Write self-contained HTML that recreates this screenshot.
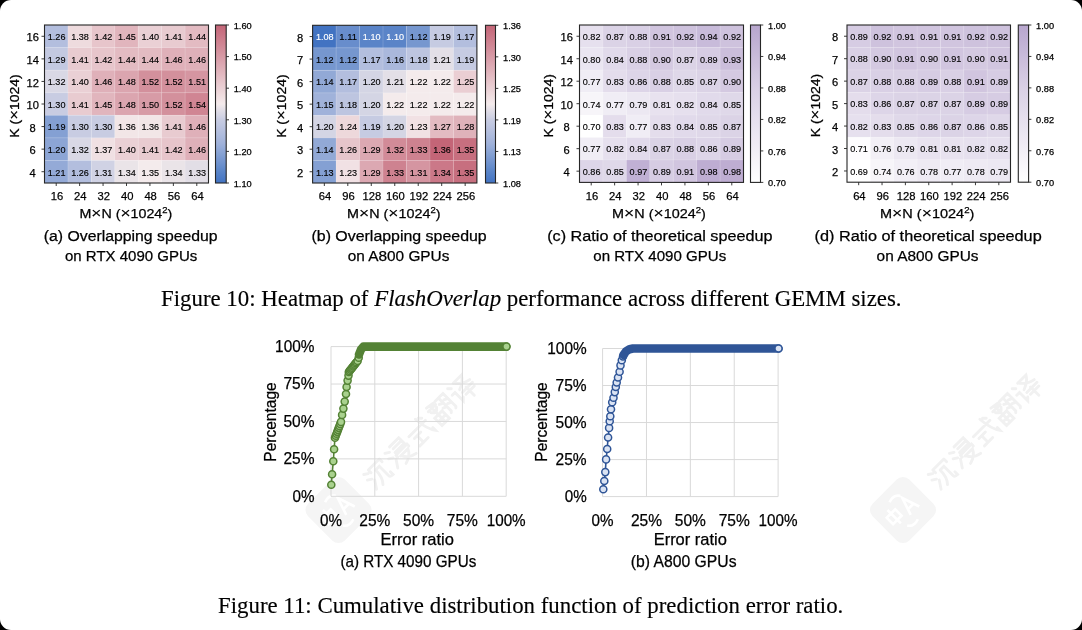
<!DOCTYPE html>
<html><head><meta charset="utf-8"><style>
html,body{margin:0;padding:0;background:#000;}
#page{position:relative;width:1082px;height:630px;background:#fff;border-radius:11px;overflow:hidden;}
svg{position:absolute;left:0;top:0;will-change:transform;}
text{font-family:"Liberation Sans", sans-serif;}
</style></head><body><div id="page">
<svg width="1082" height="630" viewBox="0 0 1082 630">
<g transform="rotate(-45 338.5 510)"><rect x="312.5" y="484" width="52" height="52" rx="9" fill="#f5f5f5"/><g fill="none" stroke="#fff" stroke-width="2.6"><path d="M321.5,504 h12 v9 h-12 z M327.5,499 v19"/><path d="M340.5,519 L346.5,501 L352.5,519 M342.5,513 h8"/><path d="M334.5,495 q8,-3 12,3 M330.5,524 q4,6 12,3"/></g></g>
<g transform="rotate(-45 903 510)"><rect x="877" y="484" width="52" height="52" rx="9" fill="#f5f5f5"/><g fill="none" stroke="#fff" stroke-width="2.6"><path d="M886,504 h12 v9 h-12 z M892,499 v19"/><path d="M905,519 L911,501 L917,519 M907,513 h8"/><path d="M899,495 q8,-3 12,3 M895,524 q4,6 12,3"/></g></g>
<g transform="translate(377.5,473.6) rotate(-45)" fill="none" stroke="#f1f1f1" stroke-width="2.2" stroke-linecap="round"><path transform="translate(-13,-13) scale(1.3)" d="M2,3 l3,2 M1,8 l3,2 M1,18 l4,-6 M7,3 h12 M7,3 v3 M19,3 v3 M11,7 q0,8 -4,12 M11,7 h4 v10 q0,2 3,2 v-3"/><path transform="translate(17,-13) scale(1.3)" d="M2,3 l3,2 M1,8 l3,2 M1,18 l4,-6 M8,2 h10 v6 h-10 M9,5 h9 M7,10 h12 v2 M7,10 v2 M9,13 h8 q-2,5 -9,7 M10,14 q3,5 9,6"/><path transform="translate(47,-13) scale(1.3)" d="M1,7 h18 M14,1 q1,12 5,17 v-3 M16,2 l2,2 M3,11 h7 M6,11 v7 M2,18 h9"/><path transform="translate(77,-13) scale(1.3)" d="M3,1 l6,1 M2,4 h8 M6,2 v8 M3,6 l2,2 M9,6 l-2,2 M2,11 h8 v8 h-8 z M2,15 h8 M6,11 v8 M11,2 h4 v14 l-1,1 M12,6 l2,1 M12,10 l2,1 M16,2 h4 v14 l-1,1 M17,6 l2,1 M17,10 l2,1"/><path transform="translate(107,-13) scale(1.3)" d="M2,2 l2,2 M1,8 h3 v9 l2,-2 M8,2 h9 q-3,5 -9,7 M9,3 q4,5 10,6 M8,12 h11 M9,15 h9 M13,11 v9"/></g>
<g transform="translate(942,473.6) rotate(-45)" fill="none" stroke="#f1f1f1" stroke-width="2.2" stroke-linecap="round"><path transform="translate(-13,-13) scale(1.3)" d="M2,3 l3,2 M1,8 l3,2 M1,18 l4,-6 M7,3 h12 M7,3 v3 M19,3 v3 M11,7 q0,8 -4,12 M11,7 h4 v10 q0,2 3,2 v-3"/><path transform="translate(17,-13) scale(1.3)" d="M2,3 l3,2 M1,8 l3,2 M1,18 l4,-6 M8,2 h10 v6 h-10 M9,5 h9 M7,10 h12 v2 M7,10 v2 M9,13 h8 q-2,5 -9,7 M10,14 q3,5 9,6"/><path transform="translate(47,-13) scale(1.3)" d="M1,7 h18 M14,1 q1,12 5,17 v-3 M16,2 l2,2 M3,11 h7 M6,11 v7 M2,18 h9"/><path transform="translate(77,-13) scale(1.3)" d="M3,1 l6,1 M2,4 h8 M6,2 v8 M3,6 l2,2 M9,6 l-2,2 M2,11 h8 v8 h-8 z M2,15 h8 M6,11 v8 M11,2 h4 v14 l-1,1 M12,6 l2,1 M12,10 l2,1 M16,2 h4 v14 l-1,1 M17,6 l2,1 M17,10 l2,1"/><path transform="translate(107,-13) scale(1.3)" d="M2,2 l2,2 M1,8 h3 v9 l2,-2 M8,2 h9 q-3,5 -9,7 M9,3 q4,5 10,6 M8,12 h11 M9,15 h9 M13,11 v9"/></g>
<rect x="44.5" y="25" width="23.48" height="22.62" fill="#b3bede"/>
<rect x="67.93" y="25" width="23.48" height="22.62" fill="#eedbde"/>
<rect x="91.36" y="25" width="23.48" height="22.62" fill="#e7c5cb"/>
<rect x="114.79" y="25" width="23.48" height="22.62" fill="#e1b5bd"/>
<rect x="138.21" y="25" width="23.48" height="22.62" fill="#ead0d5"/>
<rect x="161.64" y="25" width="23.48" height="22.62" fill="#e8cbd0"/>
<rect x="185.07" y="25" width="23.48" height="22.62" fill="#e3bbc2"/>
<rect x="44.5" y="47.57" width="23.48" height="22.62" fill="#c3c9e1"/>
<rect x="67.93" y="47.57" width="23.48" height="22.62" fill="#e8cbd0"/>
<rect x="91.36" y="47.57" width="23.48" height="22.62" fill="#e7c5cb"/>
<rect x="114.79" y="47.57" width="23.48" height="22.62" fill="#e3bbc2"/>
<rect x="138.21" y="47.57" width="23.48" height="22.62" fill="#e3bbc2"/>
<rect x="161.64" y="47.57" width="23.48" height="22.62" fill="#dfb0b9"/>
<rect x="185.07" y="47.57" width="23.48" height="22.62" fill="#dfb0b9"/>
<rect x="44.5" y="70.14" width="23.48" height="22.62" fill="#d9d8e5"/>
<rect x="67.93" y="70.14" width="23.48" height="22.62" fill="#ead0d5"/>
<rect x="91.36" y="70.14" width="23.48" height="22.62" fill="#dfb0b9"/>
<rect x="114.79" y="70.14" width="23.48" height="22.62" fill="#dba5af"/>
<rect x="138.21" y="70.14" width="23.48" height="22.62" fill="#d3909c"/>
<rect x="161.64" y="70.14" width="23.48" height="22.62" fill="#d3909c"/>
<rect x="185.07" y="70.14" width="23.48" height="22.62" fill="#d595a1"/>
<rect x="44.5" y="92.71" width="23.48" height="22.62" fill="#c8cce2"/>
<rect x="67.93" y="92.71" width="23.48" height="22.62" fill="#e8cbd0"/>
<rect x="91.36" y="92.71" width="23.48" height="22.62" fill="#e1b5bd"/>
<rect x="114.79" y="92.71" width="23.48" height="22.62" fill="#dba5af"/>
<rect x="138.21" y="92.71" width="23.48" height="22.62" fill="#d79ba6"/>
<rect x="161.64" y="92.71" width="23.48" height="22.62" fill="#d3909c"/>
<rect x="185.07" y="92.71" width="23.48" height="22.62" fill="#d08593"/>
<rect x="44.5" y="115.29" width="23.48" height="22.62" fill="#84a0d3"/>
<rect x="67.93" y="115.29" width="23.48" height="22.62" fill="#c8cce2"/>
<rect x="91.36" y="115.29" width="23.48" height="22.62" fill="#c8cce2"/>
<rect x="114.79" y="115.29" width="23.48" height="22.62" fill="#f2e6e7"/>
<rect x="138.21" y="115.29" width="23.48" height="22.62" fill="#f2e6e7"/>
<rect x="161.64" y="115.29" width="23.48" height="22.62" fill="#e8cbd0"/>
<rect x="185.07" y="115.29" width="23.48" height="22.62" fill="#dfb0b9"/>
<rect x="44.5" y="137.86" width="23.48" height="22.62" fill="#8ca5d5"/>
<rect x="67.93" y="137.86" width="23.48" height="22.62" fill="#d9d8e5"/>
<rect x="91.36" y="137.86" width="23.48" height="22.62" fill="#f0e0e3"/>
<rect x="114.79" y="137.86" width="23.48" height="22.62" fill="#ead0d5"/>
<rect x="138.21" y="137.86" width="23.48" height="22.62" fill="#e8cbd0"/>
<rect x="161.64" y="137.86" width="23.48" height="22.62" fill="#e7c5cb"/>
<rect x="185.07" y="137.86" width="23.48" height="22.62" fill="#dfb0b9"/>
<rect x="44.5" y="160.43" width="23.48" height="22.62" fill="#94aad7"/>
<rect x="67.93" y="160.43" width="23.48" height="22.62" fill="#b3bede"/>
<rect x="91.36" y="160.43" width="23.48" height="22.62" fill="#d0d2e4"/>
<rect x="114.79" y="160.43" width="23.48" height="22.62" fill="#eae4e8"/>
<rect x="138.21" y="160.43" width="23.48" height="22.62" fill="#f4ebec"/>
<rect x="161.64" y="160.43" width="23.48" height="22.62" fill="#eae4e8"/>
<rect x="185.07" y="160.43" width="23.48" height="22.62" fill="#e2dee6"/>
<line x1="67.93" y1="25" x2="67.93" y2="183" stroke="#fff" stroke-opacity="0.25" stroke-width="0.6"/>
<line x1="91.36" y1="25" x2="91.36" y2="183" stroke="#fff" stroke-opacity="0.25" stroke-width="0.6"/>
<line x1="114.79" y1="25" x2="114.79" y2="183" stroke="#fff" stroke-opacity="0.25" stroke-width="0.6"/>
<line x1="138.21" y1="25" x2="138.21" y2="183" stroke="#fff" stroke-opacity="0.25" stroke-width="0.6"/>
<line x1="161.64" y1="25" x2="161.64" y2="183" stroke="#fff" stroke-opacity="0.25" stroke-width="0.6"/>
<line x1="185.07" y1="25" x2="185.07" y2="183" stroke="#fff" stroke-opacity="0.25" stroke-width="0.6"/>
<line x1="44.5" y1="47.57" x2="208.5" y2="47.57" stroke="#fff" stroke-opacity="0.25" stroke-width="0.6"/>
<line x1="44.5" y1="70.14" x2="208.5" y2="70.14" stroke="#fff" stroke-opacity="0.25" stroke-width="0.6"/>
<line x1="44.5" y1="92.71" x2="208.5" y2="92.71" stroke="#fff" stroke-opacity="0.25" stroke-width="0.6"/>
<line x1="44.5" y1="115.29" x2="208.5" y2="115.29" stroke="#fff" stroke-opacity="0.25" stroke-width="0.6"/>
<line x1="44.5" y1="137.86" x2="208.5" y2="137.86" stroke="#fff" stroke-opacity="0.25" stroke-width="0.6"/>
<line x1="44.5" y1="160.43" x2="208.5" y2="160.43" stroke="#fff" stroke-opacity="0.25" stroke-width="0.6"/>
<text x="56.61" y="40.09" font-size="9.9" text-anchor="middle" textLength="17.7" lengthAdjust="spacingAndGlyphs" fill="#000" stroke="#000" stroke-width="0.15">1.26</text>
<text x="80.04" y="40.09" font-size="9.9" text-anchor="middle" textLength="17.7" lengthAdjust="spacingAndGlyphs" fill="#000" stroke="#000" stroke-width="0.15">1.38</text>
<text x="103.47" y="40.09" font-size="9.9" text-anchor="middle" textLength="17.7" lengthAdjust="spacingAndGlyphs" fill="#000" stroke="#000" stroke-width="0.15">1.42</text>
<text x="126.9" y="40.09" font-size="9.9" text-anchor="middle" textLength="17.7" lengthAdjust="spacingAndGlyphs" fill="#000" stroke="#000" stroke-width="0.15">1.45</text>
<text x="150.33" y="40.09" font-size="9.9" text-anchor="middle" textLength="17.7" lengthAdjust="spacingAndGlyphs" fill="#000" stroke="#000" stroke-width="0.15">1.40</text>
<text x="173.76" y="40.09" font-size="9.9" text-anchor="middle" textLength="17.7" lengthAdjust="spacingAndGlyphs" fill="#000" stroke="#000" stroke-width="0.15">1.41</text>
<text x="197.19" y="40.09" font-size="9.9" text-anchor="middle" textLength="17.7" lengthAdjust="spacingAndGlyphs" fill="#000" stroke="#000" stroke-width="0.15">1.44</text>
<text x="56.61" y="62.66" font-size="9.9" text-anchor="middle" textLength="17.7" lengthAdjust="spacingAndGlyphs" fill="#000" stroke="#000" stroke-width="0.15">1.29</text>
<text x="80.04" y="62.66" font-size="9.9" text-anchor="middle" textLength="17.7" lengthAdjust="spacingAndGlyphs" fill="#000" stroke="#000" stroke-width="0.15">1.41</text>
<text x="103.47" y="62.66" font-size="9.9" text-anchor="middle" textLength="17.7" lengthAdjust="spacingAndGlyphs" fill="#000" stroke="#000" stroke-width="0.15">1.42</text>
<text x="126.9" y="62.66" font-size="9.9" text-anchor="middle" textLength="17.7" lengthAdjust="spacingAndGlyphs" fill="#000" stroke="#000" stroke-width="0.15">1.44</text>
<text x="150.33" y="62.66" font-size="9.9" text-anchor="middle" textLength="17.7" lengthAdjust="spacingAndGlyphs" fill="#000" stroke="#000" stroke-width="0.15">1.44</text>
<text x="173.76" y="62.66" font-size="9.9" text-anchor="middle" textLength="17.7" lengthAdjust="spacingAndGlyphs" fill="#000" stroke="#000" stroke-width="0.15">1.46</text>
<text x="197.19" y="62.66" font-size="9.9" text-anchor="middle" textLength="17.7" lengthAdjust="spacingAndGlyphs" fill="#000" stroke="#000" stroke-width="0.15">1.46</text>
<text x="56.61" y="85.23" font-size="9.9" text-anchor="middle" textLength="17.7" lengthAdjust="spacingAndGlyphs" fill="#000" stroke="#000" stroke-width="0.15">1.32</text>
<text x="80.04" y="85.23" font-size="9.9" text-anchor="middle" textLength="17.7" lengthAdjust="spacingAndGlyphs" fill="#000" stroke="#000" stroke-width="0.15">1.40</text>
<text x="103.47" y="85.23" font-size="9.9" text-anchor="middle" textLength="17.7" lengthAdjust="spacingAndGlyphs" fill="#000" stroke="#000" stroke-width="0.15">1.46</text>
<text x="126.9" y="85.23" font-size="9.9" text-anchor="middle" textLength="17.7" lengthAdjust="spacingAndGlyphs" fill="#000" stroke="#000" stroke-width="0.15">1.48</text>
<text x="150.33" y="85.23" font-size="9.9" text-anchor="middle" textLength="17.7" lengthAdjust="spacingAndGlyphs" fill="#000" stroke="#000" stroke-width="0.15">1.52</text>
<text x="173.76" y="85.23" font-size="9.9" text-anchor="middle" textLength="17.7" lengthAdjust="spacingAndGlyphs" fill="#000" stroke="#000" stroke-width="0.15">1.52</text>
<text x="197.19" y="85.23" font-size="9.9" text-anchor="middle" textLength="17.7" lengthAdjust="spacingAndGlyphs" fill="#000" stroke="#000" stroke-width="0.15">1.51</text>
<text x="56.61" y="107.8" font-size="9.9" text-anchor="middle" textLength="17.7" lengthAdjust="spacingAndGlyphs" fill="#000" stroke="#000" stroke-width="0.15">1.30</text>
<text x="80.04" y="107.8" font-size="9.9" text-anchor="middle" textLength="17.7" lengthAdjust="spacingAndGlyphs" fill="#000" stroke="#000" stroke-width="0.15">1.41</text>
<text x="103.47" y="107.8" font-size="9.9" text-anchor="middle" textLength="17.7" lengthAdjust="spacingAndGlyphs" fill="#000" stroke="#000" stroke-width="0.15">1.45</text>
<text x="126.9" y="107.8" font-size="9.9" text-anchor="middle" textLength="17.7" lengthAdjust="spacingAndGlyphs" fill="#000" stroke="#000" stroke-width="0.15">1.48</text>
<text x="150.33" y="107.8" font-size="9.9" text-anchor="middle" textLength="17.7" lengthAdjust="spacingAndGlyphs" fill="#000" stroke="#000" stroke-width="0.15">1.50</text>
<text x="173.76" y="107.8" font-size="9.9" text-anchor="middle" textLength="17.7" lengthAdjust="spacingAndGlyphs" fill="#000" stroke="#000" stroke-width="0.15">1.52</text>
<text x="197.19" y="107.8" font-size="9.9" text-anchor="middle" textLength="17.7" lengthAdjust="spacingAndGlyphs" fill="#000" stroke="#000" stroke-width="0.15">1.54</text>
<text x="56.61" y="130.37" font-size="9.9" text-anchor="middle" textLength="17.7" lengthAdjust="spacingAndGlyphs" fill="#000" stroke="#000" stroke-width="0.15">1.19</text>
<text x="80.04" y="130.37" font-size="9.9" text-anchor="middle" textLength="17.7" lengthAdjust="spacingAndGlyphs" fill="#000" stroke="#000" stroke-width="0.15">1.30</text>
<text x="103.47" y="130.37" font-size="9.9" text-anchor="middle" textLength="17.7" lengthAdjust="spacingAndGlyphs" fill="#000" stroke="#000" stroke-width="0.15">1.30</text>
<text x="126.9" y="130.37" font-size="9.9" text-anchor="middle" textLength="17.7" lengthAdjust="spacingAndGlyphs" fill="#000" stroke="#000" stroke-width="0.15">1.36</text>
<text x="150.33" y="130.37" font-size="9.9" text-anchor="middle" textLength="17.7" lengthAdjust="spacingAndGlyphs" fill="#000" stroke="#000" stroke-width="0.15">1.36</text>
<text x="173.76" y="130.37" font-size="9.9" text-anchor="middle" textLength="17.7" lengthAdjust="spacingAndGlyphs" fill="#000" stroke="#000" stroke-width="0.15">1.41</text>
<text x="197.19" y="130.37" font-size="9.9" text-anchor="middle" textLength="17.7" lengthAdjust="spacingAndGlyphs" fill="#000" stroke="#000" stroke-width="0.15">1.46</text>
<text x="56.61" y="152.94" font-size="9.9" text-anchor="middle" textLength="17.7" lengthAdjust="spacingAndGlyphs" fill="#000" stroke="#000" stroke-width="0.15">1.20</text>
<text x="80.04" y="152.94" font-size="9.9" text-anchor="middle" textLength="17.7" lengthAdjust="spacingAndGlyphs" fill="#000" stroke="#000" stroke-width="0.15">1.32</text>
<text x="103.47" y="152.94" font-size="9.9" text-anchor="middle" textLength="17.7" lengthAdjust="spacingAndGlyphs" fill="#000" stroke="#000" stroke-width="0.15">1.37</text>
<text x="126.9" y="152.94" font-size="9.9" text-anchor="middle" textLength="17.7" lengthAdjust="spacingAndGlyphs" fill="#000" stroke="#000" stroke-width="0.15">1.40</text>
<text x="150.33" y="152.94" font-size="9.9" text-anchor="middle" textLength="17.7" lengthAdjust="spacingAndGlyphs" fill="#000" stroke="#000" stroke-width="0.15">1.41</text>
<text x="173.76" y="152.94" font-size="9.9" text-anchor="middle" textLength="17.7" lengthAdjust="spacingAndGlyphs" fill="#000" stroke="#000" stroke-width="0.15">1.42</text>
<text x="197.19" y="152.94" font-size="9.9" text-anchor="middle" textLength="17.7" lengthAdjust="spacingAndGlyphs" fill="#000" stroke="#000" stroke-width="0.15">1.46</text>
<text x="56.61" y="175.51" font-size="9.9" text-anchor="middle" textLength="17.7" lengthAdjust="spacingAndGlyphs" fill="#000" stroke="#000" stroke-width="0.15">1.21</text>
<text x="80.04" y="175.51" font-size="9.9" text-anchor="middle" textLength="17.7" lengthAdjust="spacingAndGlyphs" fill="#000" stroke="#000" stroke-width="0.15">1.26</text>
<text x="103.47" y="175.51" font-size="9.9" text-anchor="middle" textLength="17.7" lengthAdjust="spacingAndGlyphs" fill="#000" stroke="#000" stroke-width="0.15">1.31</text>
<text x="126.9" y="175.51" font-size="9.9" text-anchor="middle" textLength="17.7" lengthAdjust="spacingAndGlyphs" fill="#000" stroke="#000" stroke-width="0.15">1.34</text>
<text x="150.33" y="175.51" font-size="9.9" text-anchor="middle" textLength="17.7" lengthAdjust="spacingAndGlyphs" fill="#000" stroke="#000" stroke-width="0.15">1.35</text>
<text x="173.76" y="175.51" font-size="9.9" text-anchor="middle" textLength="17.7" lengthAdjust="spacingAndGlyphs" fill="#000" stroke="#000" stroke-width="0.15">1.34</text>
<text x="197.19" y="175.51" font-size="9.9" text-anchor="middle" textLength="17.7" lengthAdjust="spacingAndGlyphs" fill="#000" stroke="#000" stroke-width="0.15">1.33</text>
<rect x="44.5" y="25" width="164" height="158" fill="none" stroke="#262626" stroke-width="1.1"/>
<line x1="41.5" y1="36.29" x2="44.5" y2="36.29" stroke="#262626" stroke-width="0.9"/>
<text x="32.7" y="41.49" font-size="11.8" text-anchor="middle" textLength="12.4" lengthAdjust="spacingAndGlyphs" fill="#000" stroke="#000" stroke-width="0.25">16</text>
<line x1="41.5" y1="58.86" x2="44.5" y2="58.86" stroke="#262626" stroke-width="0.9"/>
<text x="32.7" y="64.06" font-size="11.8" text-anchor="middle" textLength="12.4" lengthAdjust="spacingAndGlyphs" fill="#000" stroke="#000" stroke-width="0.25">14</text>
<line x1="41.5" y1="81.43" x2="44.5" y2="81.43" stroke="#262626" stroke-width="0.9"/>
<text x="32.7" y="86.63" font-size="11.8" text-anchor="middle" textLength="12.4" lengthAdjust="spacingAndGlyphs" fill="#000" stroke="#000" stroke-width="0.25">12</text>
<line x1="41.5" y1="104" x2="44.5" y2="104" stroke="#262626" stroke-width="0.9"/>
<text x="32.7" y="109.2" font-size="11.8" text-anchor="middle" textLength="12.4" lengthAdjust="spacingAndGlyphs" fill="#000" stroke="#000" stroke-width="0.25">10</text>
<line x1="41.5" y1="126.57" x2="44.5" y2="126.57" stroke="#262626" stroke-width="0.9"/>
<text x="32.7" y="131.77" font-size="11.8" text-anchor="middle" textLength="6.2" lengthAdjust="spacingAndGlyphs" fill="#000" stroke="#000" stroke-width="0.25">8</text>
<line x1="41.5" y1="149.14" x2="44.5" y2="149.14" stroke="#262626" stroke-width="0.9"/>
<text x="32.7" y="154.34" font-size="11.8" text-anchor="middle" textLength="6.2" lengthAdjust="spacingAndGlyphs" fill="#000" stroke="#000" stroke-width="0.25">6</text>
<line x1="41.5" y1="171.71" x2="44.5" y2="171.71" stroke="#262626" stroke-width="0.9"/>
<text x="32.7" y="176.91" font-size="11.8" text-anchor="middle" textLength="6.2" lengthAdjust="spacingAndGlyphs" fill="#000" stroke="#000" stroke-width="0.25">4</text>
<line x1="56.21" y1="183" x2="56.21" y2="186" stroke="#262626" stroke-width="0.9"/>
<text x="56.91" y="199.7" font-size="11.8" text-anchor="middle" textLength="12.5" lengthAdjust="spacingAndGlyphs" fill="#000" stroke="#000" stroke-width="0.25">16</text>
<line x1="79.64" y1="183" x2="79.64" y2="186" stroke="#262626" stroke-width="0.9"/>
<text x="80.34" y="199.7" font-size="11.8" text-anchor="middle" textLength="12.5" lengthAdjust="spacingAndGlyphs" fill="#000" stroke="#000" stroke-width="0.25">24</text>
<line x1="103.07" y1="183" x2="103.07" y2="186" stroke="#262626" stroke-width="0.9"/>
<text x="103.77" y="199.7" font-size="11.8" text-anchor="middle" textLength="12.5" lengthAdjust="spacingAndGlyphs" fill="#000" stroke="#000" stroke-width="0.25">32</text>
<line x1="126.5" y1="183" x2="126.5" y2="186" stroke="#262626" stroke-width="0.9"/>
<text x="127.2" y="199.7" font-size="11.8" text-anchor="middle" textLength="12.5" lengthAdjust="spacingAndGlyphs" fill="#000" stroke="#000" stroke-width="0.25">40</text>
<line x1="149.93" y1="183" x2="149.93" y2="186" stroke="#262626" stroke-width="0.9"/>
<text x="150.63" y="199.7" font-size="11.8" text-anchor="middle" textLength="12.5" lengthAdjust="spacingAndGlyphs" fill="#000" stroke="#000" stroke-width="0.25">48</text>
<line x1="173.36" y1="183" x2="173.36" y2="186" stroke="#262626" stroke-width="0.9"/>
<text x="174.06" y="199.7" font-size="11.8" text-anchor="middle" textLength="12.5" lengthAdjust="spacingAndGlyphs" fill="#000" stroke="#000" stroke-width="0.25">56</text>
<line x1="196.79" y1="183" x2="196.79" y2="186" stroke="#262626" stroke-width="0.9"/>
<text x="197.49" y="199.7" font-size="11.8" text-anchor="middle" textLength="12.5" lengthAdjust="spacingAndGlyphs" fill="#000" stroke="#000" stroke-width="0.25">64</text>
<defs><linearGradient id="g44" x1="0" y1="0" x2="0" y2="1"><stop offset="0.000" stop-color="#c46577"/><stop offset="0.025" stop-color="#c66c7d"/><stop offset="0.050" stop-color="#c97283"/><stop offset="0.075" stop-color="#cb7989"/><stop offset="0.100" stop-color="#ce808e"/><stop offset="0.125" stop-color="#d08694"/><stop offset="0.150" stop-color="#d28d9a"/><stop offset="0.175" stop-color="#d594a0"/><stop offset="0.200" stop-color="#d79ba6"/><stop offset="0.225" stop-color="#daa1ac"/><stop offset="0.250" stop-color="#dca8b2"/><stop offset="0.275" stop-color="#deafb7"/><stop offset="0.300" stop-color="#e1b5bd"/><stop offset="0.325" stop-color="#e3bcc3"/><stop offset="0.350" stop-color="#e6c3c9"/><stop offset="0.375" stop-color="#e8cacf"/><stop offset="0.400" stop-color="#ead0d5"/><stop offset="0.425" stop-color="#edd7da"/><stop offset="0.450" stop-color="#efdee0"/><stop offset="0.475" stop-color="#f2e4e6"/><stop offset="0.500" stop-color="#f4ebec"/><stop offset="0.525" stop-color="#e8e2e8"/><stop offset="0.550" stop-color="#dddbe6"/><stop offset="0.575" stop-color="#d3d4e4"/><stop offset="0.600" stop-color="#c8cce2"/><stop offset="0.625" stop-color="#c1c8e1"/><stop offset="0.650" stop-color="#bbc3df"/><stop offset="0.675" stop-color="#b4bfde"/><stop offset="0.700" stop-color="#adbbdd"/><stop offset="0.725" stop-color="#a7b6db"/><stop offset="0.750" stop-color="#a0b2da"/><stop offset="0.775" stop-color="#96acd8"/><stop offset="0.800" stop-color="#8ca5d5"/><stop offset="0.825" stop-color="#829fd2"/><stop offset="0.850" stop-color="#7998d0"/><stop offset="0.875" stop-color="#6f92ce"/><stop offset="0.900" stop-color="#658ccb"/><stop offset="0.925" stop-color="#5b85c8"/><stop offset="0.950" stop-color="#527fc6"/><stop offset="0.975" stop-color="#4a79c4"/><stop offset="1.000" stop-color="#4273c2"/></linearGradient></defs>
<rect x="215.5" y="25" width="10.7" height="158" fill="url(#g44)" stroke="#262626" stroke-width="1.1"/>
<line x1="226.2" y1="25" x2="229" y2="25" stroke="#262626" stroke-width="0.9"/>
<text x="233.7" y="28.8" font-size="9" textLength="18" lengthAdjust="spacingAndGlyphs" fill="#000" stroke="#000" stroke-width="0.25">1.60</text>
<line x1="226.2" y1="56.6" x2="229" y2="56.6" stroke="#262626" stroke-width="0.9"/>
<text x="233.7" y="60.4" font-size="9" textLength="18" lengthAdjust="spacingAndGlyphs" fill="#000" stroke="#000" stroke-width="0.25">1.50</text>
<line x1="226.2" y1="88.2" x2="229" y2="88.2" stroke="#262626" stroke-width="0.9"/>
<text x="233.7" y="92" font-size="9" textLength="18" lengthAdjust="spacingAndGlyphs" fill="#000" stroke="#000" stroke-width="0.25">1.40</text>
<line x1="226.2" y1="119.8" x2="229" y2="119.8" stroke="#262626" stroke-width="0.9"/>
<text x="233.7" y="123.6" font-size="9" textLength="18" lengthAdjust="spacingAndGlyphs" fill="#000" stroke="#000" stroke-width="0.25">1.30</text>
<line x1="226.2" y1="151.4" x2="229" y2="151.4" stroke="#262626" stroke-width="0.9"/>
<text x="233.7" y="155.2" font-size="9" textLength="18" lengthAdjust="spacingAndGlyphs" fill="#000" stroke="#000" stroke-width="0.25">1.20</text>
<line x1="226.2" y1="183" x2="229" y2="183" stroke="#262626" stroke-width="0.9"/>
<text x="233.7" y="186.8" font-size="9" textLength="18" lengthAdjust="spacingAndGlyphs" fill="#000" stroke="#000" stroke-width="0.25">1.10</text>
<text x="125.85" y="217.8" font-size="12.8" text-anchor="middle" textLength="92.9" lengthAdjust="spacingAndGlyphs" fill="#000" stroke="#000" stroke-width="0.25">M<tspan font-size="15.5" stroke-width="0.1">×</tspan>N (<tspan font-size="15.5" stroke-width="0.1">×</tspan>1024<tspan font-size="8.5" dy="-5">2</tspan><tspan dy="5">)</tspan></text>
<text x="0" y="0" font-size="12.8" text-anchor="middle" textLength="63.4" lengthAdjust="spacingAndGlyphs" stroke="#000" stroke-width="0.25" transform="translate(18.8,106) rotate(-90)">K (<tspan font-size="15.5" stroke-width="0.1">×</tspan>1024)</text>
<text x="130.7" y="240.9" font-size="14.9" text-anchor="middle" textLength="173.8" lengthAdjust="spacingAndGlyphs" fill="#000" stroke="#000" stroke-width="0.25">(a) Overlapping speedup</text>
<text x="131.15" y="261.2" font-size="14.9" text-anchor="middle" textLength="132.3" lengthAdjust="spacingAndGlyphs" fill="#000" stroke="#000" stroke-width="0.25">on RTX 4090 GPUs</text>
<rect x="312.6" y="25.3" width="23.52" height="22.58" fill="#4273c2"/>
<rect x="336.07" y="25.3" width="23.52" height="22.58" fill="#688dcc"/>
<rect x="359.54" y="25.3" width="23.52" height="22.58" fill="#5a84c8"/>
<rect x="383.01" y="25.3" width="23.52" height="22.58" fill="#5a84c8"/>
<rect x="406.49" y="25.3" width="23.52" height="22.58" fill="#7697cf"/>
<rect x="429.96" y="25.3" width="23.52" height="22.58" fill="#c6cbe2"/>
<rect x="453.43" y="25.3" width="23.52" height="22.58" fill="#b3bede"/>
<rect x="312.6" y="47.83" width="23.52" height="22.58" fill="#7697cf"/>
<rect x="336.07" y="47.83" width="23.52" height="22.58" fill="#7697cf"/>
<rect x="359.54" y="47.83" width="23.52" height="22.58" fill="#b3bede"/>
<rect x="383.01" y="47.83" width="23.52" height="22.58" fill="#aab8dc"/>
<rect x="406.49" y="47.83" width="23.52" height="22.58" fill="#bdc5e0"/>
<rect x="429.96" y="47.83" width="23.52" height="22.58" fill="#e3dfe7"/>
<rect x="453.43" y="47.83" width="23.52" height="22.58" fill="#c6cbe2"/>
<rect x="312.6" y="70.36" width="23.52" height="22.58" fill="#92a9d6"/>
<rect x="336.07" y="70.36" width="23.52" height="22.58" fill="#b3bede"/>
<rect x="359.54" y="70.36" width="23.52" height="22.58" fill="#d4d5e4"/>
<rect x="383.01" y="70.36" width="23.52" height="22.58" fill="#e3dfe7"/>
<rect x="406.49" y="70.36" width="23.52" height="22.58" fill="#f4ebec"/>
<rect x="429.96" y="70.36" width="23.52" height="22.58" fill="#f4ebec"/>
<rect x="453.43" y="70.36" width="23.52" height="22.58" fill="#eaced3"/>
<rect x="312.6" y="92.89" width="23.52" height="22.58" fill="#a0b2da"/>
<rect x="336.07" y="92.89" width="23.52" height="22.58" fill="#bdc5e0"/>
<rect x="359.54" y="92.89" width="23.52" height="22.58" fill="#d4d5e4"/>
<rect x="383.01" y="92.89" width="23.52" height="22.58" fill="#f4ebec"/>
<rect x="406.49" y="92.89" width="23.52" height="22.58" fill="#f4ebec"/>
<rect x="429.96" y="92.89" width="23.52" height="22.58" fill="#f4ebec"/>
<rect x="453.43" y="92.89" width="23.52" height="22.58" fill="#f4ebec"/>
<rect x="312.6" y="115.41" width="23.52" height="22.58" fill="#d4d5e4"/>
<rect x="336.07" y="115.41" width="23.52" height="22.58" fill="#edd8db"/>
<rect x="359.54" y="115.41" width="23.52" height="22.58" fill="#c6cbe2"/>
<rect x="383.01" y="115.41" width="23.52" height="22.58" fill="#d4d5e4"/>
<rect x="406.49" y="115.41" width="23.52" height="22.58" fill="#f1e1e4"/>
<rect x="429.96" y="115.41" width="23.52" height="22.58" fill="#e3bbc2"/>
<rect x="453.43" y="115.41" width="23.52" height="22.58" fill="#dfb2ba"/>
<rect x="312.6" y="137.94" width="23.52" height="22.58" fill="#92a9d6"/>
<rect x="336.07" y="137.94" width="23.52" height="22.58" fill="#e6c5cb"/>
<rect x="359.54" y="137.94" width="23.52" height="22.58" fill="#dca8b2"/>
<rect x="383.01" y="137.94" width="23.52" height="22.58" fill="#d28b98"/>
<rect x="406.49" y="137.94" width="23.52" height="22.58" fill="#ce8290"/>
<rect x="429.96" y="137.94" width="23.52" height="22.58" fill="#c46577"/>
<rect x="453.43" y="137.94" width="23.52" height="22.58" fill="#c76f7f"/>
<rect x="312.6" y="160.47" width="23.52" height="22.58" fill="#84a0d3"/>
<rect x="336.07" y="160.47" width="23.52" height="22.58" fill="#f1e1e4"/>
<rect x="359.54" y="160.47" width="23.52" height="22.58" fill="#dca8b2"/>
<rect x="383.01" y="160.47" width="23.52" height="22.58" fill="#ce8290"/>
<rect x="406.49" y="160.47" width="23.52" height="22.58" fill="#d595a1"/>
<rect x="429.96" y="160.47" width="23.52" height="22.58" fill="#cb7888"/>
<rect x="453.43" y="160.47" width="23.52" height="22.58" fill="#c76f7f"/>
<line x1="336.07" y1="25.3" x2="336.07" y2="183" stroke="#fff" stroke-opacity="0.25" stroke-width="0.6"/>
<line x1="359.54" y1="25.3" x2="359.54" y2="183" stroke="#fff" stroke-opacity="0.25" stroke-width="0.6"/>
<line x1="383.01" y1="25.3" x2="383.01" y2="183" stroke="#fff" stroke-opacity="0.25" stroke-width="0.6"/>
<line x1="406.49" y1="25.3" x2="406.49" y2="183" stroke="#fff" stroke-opacity="0.25" stroke-width="0.6"/>
<line x1="429.96" y1="25.3" x2="429.96" y2="183" stroke="#fff" stroke-opacity="0.25" stroke-width="0.6"/>
<line x1="453.43" y1="25.3" x2="453.43" y2="183" stroke="#fff" stroke-opacity="0.25" stroke-width="0.6"/>
<line x1="312.6" y1="47.83" x2="476.9" y2="47.83" stroke="#fff" stroke-opacity="0.25" stroke-width="0.6"/>
<line x1="312.6" y1="70.36" x2="476.9" y2="70.36" stroke="#fff" stroke-opacity="0.25" stroke-width="0.6"/>
<line x1="312.6" y1="92.89" x2="476.9" y2="92.89" stroke="#fff" stroke-opacity="0.25" stroke-width="0.6"/>
<line x1="312.6" y1="115.41" x2="476.9" y2="115.41" stroke="#fff" stroke-opacity="0.25" stroke-width="0.6"/>
<line x1="312.6" y1="137.94" x2="476.9" y2="137.94" stroke="#fff" stroke-opacity="0.25" stroke-width="0.6"/>
<line x1="312.6" y1="160.47" x2="476.9" y2="160.47" stroke="#fff" stroke-opacity="0.25" stroke-width="0.6"/>
<text x="324.74" y="40.36" font-size="9.9" text-anchor="middle" textLength="17.7" lengthAdjust="spacingAndGlyphs" fill="#fff" stroke="#fff" stroke-width="0.15">1.08</text>
<text x="348.21" y="40.36" font-size="9.9" text-anchor="middle" textLength="17.7" lengthAdjust="spacingAndGlyphs" fill="#000" stroke="#000" stroke-width="0.15">1.11</text>
<text x="371.68" y="40.36" font-size="9.9" text-anchor="middle" textLength="17.7" lengthAdjust="spacingAndGlyphs" fill="#fff" stroke="#fff" stroke-width="0.15">1.10</text>
<text x="395.15" y="40.36" font-size="9.9" text-anchor="middle" textLength="17.7" lengthAdjust="spacingAndGlyphs" fill="#fff" stroke="#fff" stroke-width="0.15">1.10</text>
<text x="418.62" y="40.36" font-size="9.9" text-anchor="middle" textLength="17.7" lengthAdjust="spacingAndGlyphs" fill="#000" stroke="#000" stroke-width="0.15">1.12</text>
<text x="442.09" y="40.36" font-size="9.9" text-anchor="middle" textLength="17.7" lengthAdjust="spacingAndGlyphs" fill="#000" stroke="#000" stroke-width="0.15">1.19</text>
<text x="465.56" y="40.36" font-size="9.9" text-anchor="middle" textLength="17.7" lengthAdjust="spacingAndGlyphs" fill="#000" stroke="#000" stroke-width="0.15">1.17</text>
<text x="324.74" y="62.89" font-size="9.9" text-anchor="middle" textLength="17.7" lengthAdjust="spacingAndGlyphs" fill="#000" stroke="#000" stroke-width="0.15">1.12</text>
<text x="348.21" y="62.89" font-size="9.9" text-anchor="middle" textLength="17.7" lengthAdjust="spacingAndGlyphs" fill="#000" stroke="#000" stroke-width="0.15">1.12</text>
<text x="371.68" y="62.89" font-size="9.9" text-anchor="middle" textLength="17.7" lengthAdjust="spacingAndGlyphs" fill="#000" stroke="#000" stroke-width="0.15">1.17</text>
<text x="395.15" y="62.89" font-size="9.9" text-anchor="middle" textLength="17.7" lengthAdjust="spacingAndGlyphs" fill="#000" stroke="#000" stroke-width="0.15">1.16</text>
<text x="418.62" y="62.89" font-size="9.9" text-anchor="middle" textLength="17.7" lengthAdjust="spacingAndGlyphs" fill="#000" stroke="#000" stroke-width="0.15">1.18</text>
<text x="442.09" y="62.89" font-size="9.9" text-anchor="middle" textLength="17.7" lengthAdjust="spacingAndGlyphs" fill="#000" stroke="#000" stroke-width="0.15">1.21</text>
<text x="465.56" y="62.89" font-size="9.9" text-anchor="middle" textLength="17.7" lengthAdjust="spacingAndGlyphs" fill="#000" stroke="#000" stroke-width="0.15">1.19</text>
<text x="324.74" y="85.42" font-size="9.9" text-anchor="middle" textLength="17.7" lengthAdjust="spacingAndGlyphs" fill="#000" stroke="#000" stroke-width="0.15">1.14</text>
<text x="348.21" y="85.42" font-size="9.9" text-anchor="middle" textLength="17.7" lengthAdjust="spacingAndGlyphs" fill="#000" stroke="#000" stroke-width="0.15">1.17</text>
<text x="371.68" y="85.42" font-size="9.9" text-anchor="middle" textLength="17.7" lengthAdjust="spacingAndGlyphs" fill="#000" stroke="#000" stroke-width="0.15">1.20</text>
<text x="395.15" y="85.42" font-size="9.9" text-anchor="middle" textLength="17.7" lengthAdjust="spacingAndGlyphs" fill="#000" stroke="#000" stroke-width="0.15">1.21</text>
<text x="418.62" y="85.42" font-size="9.9" text-anchor="middle" textLength="17.7" lengthAdjust="spacingAndGlyphs" fill="#000" stroke="#000" stroke-width="0.15">1.22</text>
<text x="442.09" y="85.42" font-size="9.9" text-anchor="middle" textLength="17.7" lengthAdjust="spacingAndGlyphs" fill="#000" stroke="#000" stroke-width="0.15">1.22</text>
<text x="465.56" y="85.42" font-size="9.9" text-anchor="middle" textLength="17.7" lengthAdjust="spacingAndGlyphs" fill="#000" stroke="#000" stroke-width="0.15">1.25</text>
<text x="324.74" y="107.95" font-size="9.9" text-anchor="middle" textLength="17.7" lengthAdjust="spacingAndGlyphs" fill="#000" stroke="#000" stroke-width="0.15">1.15</text>
<text x="348.21" y="107.95" font-size="9.9" text-anchor="middle" textLength="17.7" lengthAdjust="spacingAndGlyphs" fill="#000" stroke="#000" stroke-width="0.15">1.18</text>
<text x="371.68" y="107.95" font-size="9.9" text-anchor="middle" textLength="17.7" lengthAdjust="spacingAndGlyphs" fill="#000" stroke="#000" stroke-width="0.15">1.20</text>
<text x="395.15" y="107.95" font-size="9.9" text-anchor="middle" textLength="17.7" lengthAdjust="spacingAndGlyphs" fill="#000" stroke="#000" stroke-width="0.15">1.22</text>
<text x="418.62" y="107.95" font-size="9.9" text-anchor="middle" textLength="17.7" lengthAdjust="spacingAndGlyphs" fill="#000" stroke="#000" stroke-width="0.15">1.22</text>
<text x="442.09" y="107.95" font-size="9.9" text-anchor="middle" textLength="17.7" lengthAdjust="spacingAndGlyphs" fill="#000" stroke="#000" stroke-width="0.15">1.22</text>
<text x="465.56" y="107.95" font-size="9.9" text-anchor="middle" textLength="17.7" lengthAdjust="spacingAndGlyphs" fill="#000" stroke="#000" stroke-width="0.15">1.22</text>
<text x="324.74" y="130.48" font-size="9.9" text-anchor="middle" textLength="17.7" lengthAdjust="spacingAndGlyphs" fill="#000" stroke="#000" stroke-width="0.15">1.20</text>
<text x="348.21" y="130.48" font-size="9.9" text-anchor="middle" textLength="17.7" lengthAdjust="spacingAndGlyphs" fill="#000" stroke="#000" stroke-width="0.15">1.24</text>
<text x="371.68" y="130.48" font-size="9.9" text-anchor="middle" textLength="17.7" lengthAdjust="spacingAndGlyphs" fill="#000" stroke="#000" stroke-width="0.15">1.19</text>
<text x="395.15" y="130.48" font-size="9.9" text-anchor="middle" textLength="17.7" lengthAdjust="spacingAndGlyphs" fill="#000" stroke="#000" stroke-width="0.15">1.20</text>
<text x="418.62" y="130.48" font-size="9.9" text-anchor="middle" textLength="17.7" lengthAdjust="spacingAndGlyphs" fill="#000" stroke="#000" stroke-width="0.15">1.23</text>
<text x="442.09" y="130.48" font-size="9.9" text-anchor="middle" textLength="17.7" lengthAdjust="spacingAndGlyphs" fill="#000" stroke="#000" stroke-width="0.15">1.27</text>
<text x="465.56" y="130.48" font-size="9.9" text-anchor="middle" textLength="17.7" lengthAdjust="spacingAndGlyphs" fill="#000" stroke="#000" stroke-width="0.15">1.28</text>
<text x="324.74" y="153.01" font-size="9.9" text-anchor="middle" textLength="17.7" lengthAdjust="spacingAndGlyphs" fill="#000" stroke="#000" stroke-width="0.15">1.14</text>
<text x="348.21" y="153.01" font-size="9.9" text-anchor="middle" textLength="17.7" lengthAdjust="spacingAndGlyphs" fill="#000" stroke="#000" stroke-width="0.15">1.26</text>
<text x="371.68" y="153.01" font-size="9.9" text-anchor="middle" textLength="17.7" lengthAdjust="spacingAndGlyphs" fill="#000" stroke="#000" stroke-width="0.15">1.29</text>
<text x="395.15" y="153.01" font-size="9.9" text-anchor="middle" textLength="17.7" lengthAdjust="spacingAndGlyphs" fill="#000" stroke="#000" stroke-width="0.15">1.32</text>
<text x="418.62" y="153.01" font-size="9.9" text-anchor="middle" textLength="17.7" lengthAdjust="spacingAndGlyphs" fill="#000" stroke="#000" stroke-width="0.15">1.33</text>
<text x="442.09" y="153.01" font-size="9.9" text-anchor="middle" textLength="17.7" lengthAdjust="spacingAndGlyphs" fill="#000" stroke="#000" stroke-width="0.15">1.36</text>
<text x="465.56" y="153.01" font-size="9.9" text-anchor="middle" textLength="17.7" lengthAdjust="spacingAndGlyphs" fill="#000" stroke="#000" stroke-width="0.15">1.35</text>
<text x="324.74" y="175.54" font-size="9.9" text-anchor="middle" textLength="17.7" lengthAdjust="spacingAndGlyphs" fill="#000" stroke="#000" stroke-width="0.15">1.13</text>
<text x="348.21" y="175.54" font-size="9.9" text-anchor="middle" textLength="17.7" lengthAdjust="spacingAndGlyphs" fill="#000" stroke="#000" stroke-width="0.15">1.23</text>
<text x="371.68" y="175.54" font-size="9.9" text-anchor="middle" textLength="17.7" lengthAdjust="spacingAndGlyphs" fill="#000" stroke="#000" stroke-width="0.15">1.29</text>
<text x="395.15" y="175.54" font-size="9.9" text-anchor="middle" textLength="17.7" lengthAdjust="spacingAndGlyphs" fill="#000" stroke="#000" stroke-width="0.15">1.33</text>
<text x="418.62" y="175.54" font-size="9.9" text-anchor="middle" textLength="17.7" lengthAdjust="spacingAndGlyphs" fill="#000" stroke="#000" stroke-width="0.15">1.31</text>
<text x="442.09" y="175.54" font-size="9.9" text-anchor="middle" textLength="17.7" lengthAdjust="spacingAndGlyphs" fill="#000" stroke="#000" stroke-width="0.15">1.34</text>
<text x="465.56" y="175.54" font-size="9.9" text-anchor="middle" textLength="17.7" lengthAdjust="spacingAndGlyphs" fill="#000" stroke="#000" stroke-width="0.15">1.35</text>
<rect x="312.6" y="25.3" width="164.3" height="157.7" fill="none" stroke="#262626" stroke-width="1.1"/>
<line x1="309.6" y1="36.56" x2="312.6" y2="36.56" stroke="#262626" stroke-width="0.9"/>
<text x="300.2" y="41.76" font-size="11.8" text-anchor="middle" textLength="6.2" lengthAdjust="spacingAndGlyphs" fill="#000" stroke="#000" stroke-width="0.25">8</text>
<line x1="309.6" y1="59.09" x2="312.6" y2="59.09" stroke="#262626" stroke-width="0.9"/>
<text x="300.2" y="64.29" font-size="11.8" text-anchor="middle" textLength="6.2" lengthAdjust="spacingAndGlyphs" fill="#000" stroke="#000" stroke-width="0.25">7</text>
<line x1="309.6" y1="81.62" x2="312.6" y2="81.62" stroke="#262626" stroke-width="0.9"/>
<text x="300.2" y="86.82" font-size="11.8" text-anchor="middle" textLength="6.2" lengthAdjust="spacingAndGlyphs" fill="#000" stroke="#000" stroke-width="0.25">6</text>
<line x1="309.6" y1="104.15" x2="312.6" y2="104.15" stroke="#262626" stroke-width="0.9"/>
<text x="300.2" y="109.35" font-size="11.8" text-anchor="middle" textLength="6.2" lengthAdjust="spacingAndGlyphs" fill="#000" stroke="#000" stroke-width="0.25">5</text>
<line x1="309.6" y1="126.68" x2="312.6" y2="126.68" stroke="#262626" stroke-width="0.9"/>
<text x="300.2" y="131.88" font-size="11.8" text-anchor="middle" textLength="6.2" lengthAdjust="spacingAndGlyphs" fill="#000" stroke="#000" stroke-width="0.25">4</text>
<line x1="309.6" y1="149.21" x2="312.6" y2="149.21" stroke="#262626" stroke-width="0.9"/>
<text x="300.2" y="154.41" font-size="11.8" text-anchor="middle" textLength="6.2" lengthAdjust="spacingAndGlyphs" fill="#000" stroke="#000" stroke-width="0.25">3</text>
<line x1="309.6" y1="171.74" x2="312.6" y2="171.74" stroke="#262626" stroke-width="0.9"/>
<text x="300.2" y="176.94" font-size="11.8" text-anchor="middle" textLength="6.2" lengthAdjust="spacingAndGlyphs" fill="#000" stroke="#000" stroke-width="0.25">2</text>
<line x1="324.34" y1="183" x2="324.34" y2="186" stroke="#262626" stroke-width="0.9"/>
<text x="325.04" y="199.7" font-size="11.8" text-anchor="middle" textLength="12.5" lengthAdjust="spacingAndGlyphs" fill="#000" stroke="#000" stroke-width="0.25">64</text>
<line x1="347.81" y1="183" x2="347.81" y2="186" stroke="#262626" stroke-width="0.9"/>
<text x="348.51" y="199.7" font-size="11.8" text-anchor="middle" textLength="12.5" lengthAdjust="spacingAndGlyphs" fill="#000" stroke="#000" stroke-width="0.25">96</text>
<line x1="371.28" y1="183" x2="371.28" y2="186" stroke="#262626" stroke-width="0.9"/>
<text x="371.98" y="199.7" font-size="11.8" text-anchor="middle" textLength="18.75" lengthAdjust="spacingAndGlyphs" fill="#000" stroke="#000" stroke-width="0.25">128</text>
<line x1="394.75" y1="183" x2="394.75" y2="186" stroke="#262626" stroke-width="0.9"/>
<text x="395.45" y="199.7" font-size="11.8" text-anchor="middle" textLength="18.75" lengthAdjust="spacingAndGlyphs" fill="#000" stroke="#000" stroke-width="0.25">160</text>
<line x1="418.22" y1="183" x2="418.22" y2="186" stroke="#262626" stroke-width="0.9"/>
<text x="418.92" y="199.7" font-size="11.8" text-anchor="middle" textLength="18.75" lengthAdjust="spacingAndGlyphs" fill="#000" stroke="#000" stroke-width="0.25">192</text>
<line x1="441.69" y1="183" x2="441.69" y2="186" stroke="#262626" stroke-width="0.9"/>
<text x="442.39" y="199.7" font-size="11.8" text-anchor="middle" textLength="18.75" lengthAdjust="spacingAndGlyphs" fill="#000" stroke="#000" stroke-width="0.25">224</text>
<line x1="465.16" y1="183" x2="465.16" y2="186" stroke="#262626" stroke-width="0.9"/>
<text x="465.86" y="199.7" font-size="11.8" text-anchor="middle" textLength="18.75" lengthAdjust="spacingAndGlyphs" fill="#000" stroke="#000" stroke-width="0.25">256</text>
<defs><linearGradient id="g312" x1="0" y1="0" x2="0" y2="1"><stop offset="0.000" stop-color="#c46577"/><stop offset="0.025" stop-color="#c66c7d"/><stop offset="0.050" stop-color="#c97283"/><stop offset="0.075" stop-color="#cb7989"/><stop offset="0.100" stop-color="#ce808e"/><stop offset="0.125" stop-color="#d08694"/><stop offset="0.150" stop-color="#d28d9a"/><stop offset="0.175" stop-color="#d594a0"/><stop offset="0.200" stop-color="#d79ba6"/><stop offset="0.225" stop-color="#daa1ac"/><stop offset="0.250" stop-color="#dca8b2"/><stop offset="0.275" stop-color="#deafb7"/><stop offset="0.300" stop-color="#e1b5bd"/><stop offset="0.325" stop-color="#e3bcc3"/><stop offset="0.350" stop-color="#e6c3c9"/><stop offset="0.375" stop-color="#e8cacf"/><stop offset="0.400" stop-color="#ead0d5"/><stop offset="0.425" stop-color="#edd7da"/><stop offset="0.450" stop-color="#efdee0"/><stop offset="0.475" stop-color="#f2e4e6"/><stop offset="0.500" stop-color="#f4ebec"/><stop offset="0.525" stop-color="#e8e2e8"/><stop offset="0.550" stop-color="#dddbe6"/><stop offset="0.575" stop-color="#d3d4e4"/><stop offset="0.600" stop-color="#c8cce2"/><stop offset="0.625" stop-color="#c1c8e1"/><stop offset="0.650" stop-color="#bbc3df"/><stop offset="0.675" stop-color="#b4bfde"/><stop offset="0.700" stop-color="#adbbdd"/><stop offset="0.725" stop-color="#a7b6db"/><stop offset="0.750" stop-color="#a0b2da"/><stop offset="0.775" stop-color="#96acd8"/><stop offset="0.800" stop-color="#8ca5d5"/><stop offset="0.825" stop-color="#829fd2"/><stop offset="0.850" stop-color="#7998d0"/><stop offset="0.875" stop-color="#6f92ce"/><stop offset="0.900" stop-color="#658ccb"/><stop offset="0.925" stop-color="#5b85c8"/><stop offset="0.950" stop-color="#527fc6"/><stop offset="0.975" stop-color="#4a79c4"/><stop offset="1.000" stop-color="#4273c2"/></linearGradient></defs>
<rect x="485.5" y="25.3" width="10" height="157.7" fill="url(#g312)" stroke="#262626" stroke-width="1.1"/>
<line x1="495.5" y1="25.3" x2="498.3" y2="25.3" stroke="#262626" stroke-width="0.9"/>
<text x="503" y="29.1" font-size="9" textLength="18" lengthAdjust="spacingAndGlyphs" fill="#000" stroke="#000" stroke-width="0.25">1.36</text>
<line x1="495.5" y1="56.84" x2="498.3" y2="56.84" stroke="#262626" stroke-width="0.9"/>
<text x="503" y="60.64" font-size="9" textLength="18" lengthAdjust="spacingAndGlyphs" fill="#000" stroke="#000" stroke-width="0.25">1.30</text>
<line x1="495.5" y1="88.38" x2="498.3" y2="88.38" stroke="#262626" stroke-width="0.9"/>
<text x="503" y="92.18" font-size="9" textLength="18" lengthAdjust="spacingAndGlyphs" fill="#000" stroke="#000" stroke-width="0.25">1.25</text>
<line x1="495.5" y1="119.92" x2="498.3" y2="119.92" stroke="#262626" stroke-width="0.9"/>
<text x="503" y="123.72" font-size="9" textLength="18" lengthAdjust="spacingAndGlyphs" fill="#000" stroke="#000" stroke-width="0.25">1.19</text>
<line x1="495.5" y1="151.46" x2="498.3" y2="151.46" stroke="#262626" stroke-width="0.9"/>
<text x="503" y="155.26" font-size="9" textLength="18" lengthAdjust="spacingAndGlyphs" fill="#000" stroke="#000" stroke-width="0.25">1.13</text>
<line x1="495.5" y1="183" x2="498.3" y2="183" stroke="#262626" stroke-width="0.9"/>
<text x="503" y="186.8" font-size="9" textLength="18" lengthAdjust="spacingAndGlyphs" fill="#000" stroke="#000" stroke-width="0.25">1.08</text>
<text x="393.8" y="217.8" font-size="12.8" text-anchor="middle" textLength="93.4" lengthAdjust="spacingAndGlyphs" fill="#000" stroke="#000" stroke-width="0.25">M<tspan font-size="15.5" stroke-width="0.1">×</tspan>N (<tspan font-size="15.5" stroke-width="0.1">×</tspan>1024<tspan font-size="8.5" dy="-5">2</tspan><tspan dy="5">)</tspan></text>
<text x="0" y="0" font-size="12.8" text-anchor="middle" textLength="63.4" lengthAdjust="spacingAndGlyphs" stroke="#000" stroke-width="0.25" transform="translate(286.1,106.15) rotate(-90)">K (<tspan font-size="15.5" stroke-width="0.1">×</tspan>1024)</text>
<text x="399.1" y="240.9" font-size="14.9" text-anchor="middle" textLength="175.2" lengthAdjust="spacingAndGlyphs" fill="#000" stroke="#000" stroke-width="0.25">(b) Overlapping speedup</text>
<text x="398.55" y="261.2" font-size="14.9" text-anchor="middle" textLength="101.7" lengthAdjust="spacingAndGlyphs" fill="#000" stroke="#000" stroke-width="0.25">on A800 GPUs</text>
<rect x="579.5" y="25" width="23.48" height="22.54" fill="#e6e0ee"/>
<rect x="602.93" y="25" width="23.48" height="22.54" fill="#dbd3e6"/>
<rect x="626.36" y="25" width="23.48" height="22.54" fill="#d9d0e5"/>
<rect x="649.79" y="25" width="23.48" height="22.54" fill="#d1c5df"/>
<rect x="673.21" y="25" width="23.48" height="22.54" fill="#cec2dd"/>
<rect x="696.64" y="25" width="23.48" height="22.54" fill="#c8bbda"/>
<rect x="720.07" y="25" width="23.48" height="22.54" fill="#cec2dd"/>
<rect x="579.5" y="47.49" width="23.48" height="22.54" fill="#eae5f1"/>
<rect x="602.93" y="47.49" width="23.48" height="22.54" fill="#e1daeb"/>
<rect x="626.36" y="47.49" width="23.48" height="22.54" fill="#d9d0e5"/>
<rect x="649.79" y="47.49" width="23.48" height="22.54" fill="#d4c9e1"/>
<rect x="673.21" y="47.49" width="23.48" height="22.54" fill="#dbd3e6"/>
<rect x="696.64" y="47.49" width="23.48" height="22.54" fill="#d6cce3"/>
<rect x="720.07" y="47.49" width="23.48" height="22.54" fill="#cbbedb"/>
<rect x="579.5" y="69.97" width="23.48" height="22.54" fill="#f0edf5"/>
<rect x="602.93" y="69.97" width="23.48" height="22.54" fill="#e4ddec"/>
<rect x="626.36" y="69.97" width="23.48" height="22.54" fill="#ddd5e8"/>
<rect x="649.79" y="69.97" width="23.48" height="22.54" fill="#d9d0e5"/>
<rect x="673.21" y="69.97" width="23.48" height="22.54" fill="#dfd8e9"/>
<rect x="696.64" y="69.97" width="23.48" height="22.54" fill="#dbd3e6"/>
<rect x="720.07" y="69.97" width="23.48" height="22.54" fill="#d4c9e1"/>
<rect x="579.5" y="92.46" width="23.48" height="22.54" fill="#f7f5f9"/>
<rect x="602.93" y="92.46" width="23.48" height="22.54" fill="#f0edf5"/>
<rect x="626.36" y="92.46" width="23.48" height="22.54" fill="#ece8f2"/>
<rect x="649.79" y="92.46" width="23.48" height="22.54" fill="#e8e2ef"/>
<rect x="673.21" y="92.46" width="23.48" height="22.54" fill="#e6e0ee"/>
<rect x="696.64" y="92.46" width="23.48" height="22.54" fill="#e1daeb"/>
<rect x="720.07" y="92.46" width="23.48" height="22.54" fill="#dfd8e9"/>
<rect x="579.5" y="114.94" width="23.48" height="22.54" fill="#ffffff"/>
<rect x="602.93" y="114.94" width="23.48" height="22.54" fill="#e4ddec"/>
<rect x="626.36" y="114.94" width="23.48" height="22.54" fill="#f0edf5"/>
<rect x="649.79" y="114.94" width="23.48" height="22.54" fill="#e4ddec"/>
<rect x="673.21" y="114.94" width="23.48" height="22.54" fill="#e1daeb"/>
<rect x="696.64" y="114.94" width="23.48" height="22.54" fill="#dfd8e9"/>
<rect x="720.07" y="114.94" width="23.48" height="22.54" fill="#dbd3e6"/>
<rect x="579.5" y="137.43" width="23.48" height="22.54" fill="#f0edf5"/>
<rect x="602.93" y="137.43" width="23.48" height="22.54" fill="#e6e0ee"/>
<rect x="626.36" y="137.43" width="23.48" height="22.54" fill="#e1daeb"/>
<rect x="649.79" y="137.43" width="23.48" height="22.54" fill="#dbd3e6"/>
<rect x="673.21" y="137.43" width="23.48" height="22.54" fill="#d9d0e5"/>
<rect x="696.64" y="137.43" width="23.48" height="22.54" fill="#ddd5e8"/>
<rect x="720.07" y="137.43" width="23.48" height="22.54" fill="#d6cce3"/>
<rect x="579.5" y="159.91" width="23.48" height="22.54" fill="#ddd5e8"/>
<rect x="602.93" y="159.91" width="23.48" height="22.54" fill="#dfd8e9"/>
<rect x="626.36" y="159.91" width="23.48" height="22.54" fill="#c0b0d4"/>
<rect x="649.79" y="159.91" width="23.48" height="22.54" fill="#d6cce3"/>
<rect x="673.21" y="159.91" width="23.48" height="22.54" fill="#d1c5df"/>
<rect x="696.64" y="159.91" width="23.48" height="22.54" fill="#beadd2"/>
<rect x="720.07" y="159.91" width="23.48" height="22.54" fill="#beadd2"/>
<line x1="602.93" y1="25" x2="602.93" y2="182.4" stroke="#fff" stroke-opacity="0.25" stroke-width="0.6"/>
<line x1="626.36" y1="25" x2="626.36" y2="182.4" stroke="#fff" stroke-opacity="0.25" stroke-width="0.6"/>
<line x1="649.79" y1="25" x2="649.79" y2="182.4" stroke="#fff" stroke-opacity="0.25" stroke-width="0.6"/>
<line x1="673.21" y1="25" x2="673.21" y2="182.4" stroke="#fff" stroke-opacity="0.25" stroke-width="0.6"/>
<line x1="696.64" y1="25" x2="696.64" y2="182.4" stroke="#fff" stroke-opacity="0.25" stroke-width="0.6"/>
<line x1="720.07" y1="25" x2="720.07" y2="182.4" stroke="#fff" stroke-opacity="0.25" stroke-width="0.6"/>
<line x1="579.5" y1="47.49" x2="743.5" y2="47.49" stroke="#fff" stroke-opacity="0.25" stroke-width="0.6"/>
<line x1="579.5" y1="69.97" x2="743.5" y2="69.97" stroke="#fff" stroke-opacity="0.25" stroke-width="0.6"/>
<line x1="579.5" y1="92.46" x2="743.5" y2="92.46" stroke="#fff" stroke-opacity="0.25" stroke-width="0.6"/>
<line x1="579.5" y1="114.94" x2="743.5" y2="114.94" stroke="#fff" stroke-opacity="0.25" stroke-width="0.6"/>
<line x1="579.5" y1="137.43" x2="743.5" y2="137.43" stroke="#fff" stroke-opacity="0.25" stroke-width="0.6"/>
<line x1="579.5" y1="159.91" x2="743.5" y2="159.91" stroke="#fff" stroke-opacity="0.25" stroke-width="0.6"/>
<text x="591.61" y="40.04" font-size="9.9" text-anchor="middle" textLength="17.7" lengthAdjust="spacingAndGlyphs" fill="#000" stroke="#000" stroke-width="0.15">0.82</text>
<text x="615.04" y="40.04" font-size="9.9" text-anchor="middle" textLength="17.7" lengthAdjust="spacingAndGlyphs" fill="#000" stroke="#000" stroke-width="0.15">0.87</text>
<text x="638.47" y="40.04" font-size="9.9" text-anchor="middle" textLength="17.7" lengthAdjust="spacingAndGlyphs" fill="#000" stroke="#000" stroke-width="0.15">0.88</text>
<text x="661.9" y="40.04" font-size="9.9" text-anchor="middle" textLength="17.7" lengthAdjust="spacingAndGlyphs" fill="#000" stroke="#000" stroke-width="0.15">0.91</text>
<text x="685.33" y="40.04" font-size="9.9" text-anchor="middle" textLength="17.7" lengthAdjust="spacingAndGlyphs" fill="#000" stroke="#000" stroke-width="0.15">0.92</text>
<text x="708.76" y="40.04" font-size="9.9" text-anchor="middle" textLength="17.7" lengthAdjust="spacingAndGlyphs" fill="#000" stroke="#000" stroke-width="0.15">0.94</text>
<text x="732.19" y="40.04" font-size="9.9" text-anchor="middle" textLength="17.7" lengthAdjust="spacingAndGlyphs" fill="#000" stroke="#000" stroke-width="0.15">0.92</text>
<text x="591.61" y="62.53" font-size="9.9" text-anchor="middle" textLength="17.7" lengthAdjust="spacingAndGlyphs" fill="#000" stroke="#000" stroke-width="0.15">0.80</text>
<text x="615.04" y="62.53" font-size="9.9" text-anchor="middle" textLength="17.7" lengthAdjust="spacingAndGlyphs" fill="#000" stroke="#000" stroke-width="0.15">0.84</text>
<text x="638.47" y="62.53" font-size="9.9" text-anchor="middle" textLength="17.7" lengthAdjust="spacingAndGlyphs" fill="#000" stroke="#000" stroke-width="0.15">0.88</text>
<text x="661.9" y="62.53" font-size="9.9" text-anchor="middle" textLength="17.7" lengthAdjust="spacingAndGlyphs" fill="#000" stroke="#000" stroke-width="0.15">0.90</text>
<text x="685.33" y="62.53" font-size="9.9" text-anchor="middle" textLength="17.7" lengthAdjust="spacingAndGlyphs" fill="#000" stroke="#000" stroke-width="0.15">0.87</text>
<text x="708.76" y="62.53" font-size="9.9" text-anchor="middle" textLength="17.7" lengthAdjust="spacingAndGlyphs" fill="#000" stroke="#000" stroke-width="0.15">0.89</text>
<text x="732.19" y="62.53" font-size="9.9" text-anchor="middle" textLength="17.7" lengthAdjust="spacingAndGlyphs" fill="#000" stroke="#000" stroke-width="0.15">0.93</text>
<text x="591.61" y="85.01" font-size="9.9" text-anchor="middle" textLength="17.7" lengthAdjust="spacingAndGlyphs" fill="#000" stroke="#000" stroke-width="0.15">0.77</text>
<text x="615.04" y="85.01" font-size="9.9" text-anchor="middle" textLength="17.7" lengthAdjust="spacingAndGlyphs" fill="#000" stroke="#000" stroke-width="0.15">0.83</text>
<text x="638.47" y="85.01" font-size="9.9" text-anchor="middle" textLength="17.7" lengthAdjust="spacingAndGlyphs" fill="#000" stroke="#000" stroke-width="0.15">0.86</text>
<text x="661.9" y="85.01" font-size="9.9" text-anchor="middle" textLength="17.7" lengthAdjust="spacingAndGlyphs" fill="#000" stroke="#000" stroke-width="0.15">0.88</text>
<text x="685.33" y="85.01" font-size="9.9" text-anchor="middle" textLength="17.7" lengthAdjust="spacingAndGlyphs" fill="#000" stroke="#000" stroke-width="0.15">0.85</text>
<text x="708.76" y="85.01" font-size="9.9" text-anchor="middle" textLength="17.7" lengthAdjust="spacingAndGlyphs" fill="#000" stroke="#000" stroke-width="0.15">0.87</text>
<text x="732.19" y="85.01" font-size="9.9" text-anchor="middle" textLength="17.7" lengthAdjust="spacingAndGlyphs" fill="#000" stroke="#000" stroke-width="0.15">0.90</text>
<text x="591.61" y="107.5" font-size="9.9" text-anchor="middle" textLength="17.7" lengthAdjust="spacingAndGlyphs" fill="#000" stroke="#000" stroke-width="0.15">0.74</text>
<text x="615.04" y="107.5" font-size="9.9" text-anchor="middle" textLength="17.7" lengthAdjust="spacingAndGlyphs" fill="#000" stroke="#000" stroke-width="0.15">0.77</text>
<text x="638.47" y="107.5" font-size="9.9" text-anchor="middle" textLength="17.7" lengthAdjust="spacingAndGlyphs" fill="#000" stroke="#000" stroke-width="0.15">0.79</text>
<text x="661.9" y="107.5" font-size="9.9" text-anchor="middle" textLength="17.7" lengthAdjust="spacingAndGlyphs" fill="#000" stroke="#000" stroke-width="0.15">0.81</text>
<text x="685.33" y="107.5" font-size="9.9" text-anchor="middle" textLength="17.7" lengthAdjust="spacingAndGlyphs" fill="#000" stroke="#000" stroke-width="0.15">0.82</text>
<text x="708.76" y="107.5" font-size="9.9" text-anchor="middle" textLength="17.7" lengthAdjust="spacingAndGlyphs" fill="#000" stroke="#000" stroke-width="0.15">0.84</text>
<text x="732.19" y="107.5" font-size="9.9" text-anchor="middle" textLength="17.7" lengthAdjust="spacingAndGlyphs" fill="#000" stroke="#000" stroke-width="0.15">0.85</text>
<text x="591.61" y="129.99" font-size="9.9" text-anchor="middle" textLength="17.7" lengthAdjust="spacingAndGlyphs" fill="#000" stroke="#000" stroke-width="0.15">0.70</text>
<text x="615.04" y="129.99" font-size="9.9" text-anchor="middle" textLength="17.7" lengthAdjust="spacingAndGlyphs" fill="#000" stroke="#000" stroke-width="0.15">0.83</text>
<text x="638.47" y="129.99" font-size="9.9" text-anchor="middle" textLength="17.7" lengthAdjust="spacingAndGlyphs" fill="#000" stroke="#000" stroke-width="0.15">0.77</text>
<text x="661.9" y="129.99" font-size="9.9" text-anchor="middle" textLength="17.7" lengthAdjust="spacingAndGlyphs" fill="#000" stroke="#000" stroke-width="0.15">0.83</text>
<text x="685.33" y="129.99" font-size="9.9" text-anchor="middle" textLength="17.7" lengthAdjust="spacingAndGlyphs" fill="#000" stroke="#000" stroke-width="0.15">0.84</text>
<text x="708.76" y="129.99" font-size="9.9" text-anchor="middle" textLength="17.7" lengthAdjust="spacingAndGlyphs" fill="#000" stroke="#000" stroke-width="0.15">0.85</text>
<text x="732.19" y="129.99" font-size="9.9" text-anchor="middle" textLength="17.7" lengthAdjust="spacingAndGlyphs" fill="#000" stroke="#000" stroke-width="0.15">0.87</text>
<text x="591.61" y="152.47" font-size="9.9" text-anchor="middle" textLength="17.7" lengthAdjust="spacingAndGlyphs" fill="#000" stroke="#000" stroke-width="0.15">0.77</text>
<text x="615.04" y="152.47" font-size="9.9" text-anchor="middle" textLength="17.7" lengthAdjust="spacingAndGlyphs" fill="#000" stroke="#000" stroke-width="0.15">0.82</text>
<text x="638.47" y="152.47" font-size="9.9" text-anchor="middle" textLength="17.7" lengthAdjust="spacingAndGlyphs" fill="#000" stroke="#000" stroke-width="0.15">0.84</text>
<text x="661.9" y="152.47" font-size="9.9" text-anchor="middle" textLength="17.7" lengthAdjust="spacingAndGlyphs" fill="#000" stroke="#000" stroke-width="0.15">0.87</text>
<text x="685.33" y="152.47" font-size="9.9" text-anchor="middle" textLength="17.7" lengthAdjust="spacingAndGlyphs" fill="#000" stroke="#000" stroke-width="0.15">0.88</text>
<text x="708.76" y="152.47" font-size="9.9" text-anchor="middle" textLength="17.7" lengthAdjust="spacingAndGlyphs" fill="#000" stroke="#000" stroke-width="0.15">0.86</text>
<text x="732.19" y="152.47" font-size="9.9" text-anchor="middle" textLength="17.7" lengthAdjust="spacingAndGlyphs" fill="#000" stroke="#000" stroke-width="0.15">0.89</text>
<text x="591.61" y="174.96" font-size="9.9" text-anchor="middle" textLength="17.7" lengthAdjust="spacingAndGlyphs" fill="#000" stroke="#000" stroke-width="0.15">0.86</text>
<text x="615.04" y="174.96" font-size="9.9" text-anchor="middle" textLength="17.7" lengthAdjust="spacingAndGlyphs" fill="#000" stroke="#000" stroke-width="0.15">0.85</text>
<text x="638.47" y="174.96" font-size="9.9" text-anchor="middle" textLength="17.7" lengthAdjust="spacingAndGlyphs" fill="#000" stroke="#000" stroke-width="0.15">0.97</text>
<text x="661.9" y="174.96" font-size="9.9" text-anchor="middle" textLength="17.7" lengthAdjust="spacingAndGlyphs" fill="#000" stroke="#000" stroke-width="0.15">0.89</text>
<text x="685.33" y="174.96" font-size="9.9" text-anchor="middle" textLength="17.7" lengthAdjust="spacingAndGlyphs" fill="#000" stroke="#000" stroke-width="0.15">0.91</text>
<text x="708.76" y="174.96" font-size="9.9" text-anchor="middle" textLength="17.7" lengthAdjust="spacingAndGlyphs" fill="#000" stroke="#000" stroke-width="0.15">0.98</text>
<text x="732.19" y="174.96" font-size="9.9" text-anchor="middle" textLength="17.7" lengthAdjust="spacingAndGlyphs" fill="#000" stroke="#000" stroke-width="0.15">0.98</text>
<rect x="579.5" y="25" width="164" height="157.4" fill="none" stroke="#262626" stroke-width="1.1"/>
<line x1="576.5" y1="36.24" x2="579.5" y2="36.24" stroke="#262626" stroke-width="0.9"/>
<text x="566.7" y="41.44" font-size="11.8" text-anchor="middle" textLength="12.4" lengthAdjust="spacingAndGlyphs" fill="#000" stroke="#000" stroke-width="0.25">16</text>
<line x1="576.5" y1="58.73" x2="579.5" y2="58.73" stroke="#262626" stroke-width="0.9"/>
<text x="566.7" y="63.93" font-size="11.8" text-anchor="middle" textLength="12.4" lengthAdjust="spacingAndGlyphs" fill="#000" stroke="#000" stroke-width="0.25">14</text>
<line x1="576.5" y1="81.21" x2="579.5" y2="81.21" stroke="#262626" stroke-width="0.9"/>
<text x="566.7" y="86.41" font-size="11.8" text-anchor="middle" textLength="12.4" lengthAdjust="spacingAndGlyphs" fill="#000" stroke="#000" stroke-width="0.25">12</text>
<line x1="576.5" y1="103.7" x2="579.5" y2="103.7" stroke="#262626" stroke-width="0.9"/>
<text x="566.7" y="108.9" font-size="11.8" text-anchor="middle" textLength="12.4" lengthAdjust="spacingAndGlyphs" fill="#000" stroke="#000" stroke-width="0.25">10</text>
<line x1="576.5" y1="126.19" x2="579.5" y2="126.19" stroke="#262626" stroke-width="0.9"/>
<text x="566.7" y="131.39" font-size="11.8" text-anchor="middle" textLength="6.2" lengthAdjust="spacingAndGlyphs" fill="#000" stroke="#000" stroke-width="0.25">8</text>
<line x1="576.5" y1="148.67" x2="579.5" y2="148.67" stroke="#262626" stroke-width="0.9"/>
<text x="566.7" y="153.87" font-size="11.8" text-anchor="middle" textLength="6.2" lengthAdjust="spacingAndGlyphs" fill="#000" stroke="#000" stroke-width="0.25">6</text>
<line x1="576.5" y1="171.16" x2="579.5" y2="171.16" stroke="#262626" stroke-width="0.9"/>
<text x="566.7" y="176.36" font-size="11.8" text-anchor="middle" textLength="6.2" lengthAdjust="spacingAndGlyphs" fill="#000" stroke="#000" stroke-width="0.25">4</text>
<line x1="591.21" y1="182.4" x2="591.21" y2="185.4" stroke="#262626" stroke-width="0.9"/>
<text x="591.91" y="199.7" font-size="11.8" text-anchor="middle" textLength="12.5" lengthAdjust="spacingAndGlyphs" fill="#000" stroke="#000" stroke-width="0.25">16</text>
<line x1="614.64" y1="182.4" x2="614.64" y2="185.4" stroke="#262626" stroke-width="0.9"/>
<text x="615.34" y="199.7" font-size="11.8" text-anchor="middle" textLength="12.5" lengthAdjust="spacingAndGlyphs" fill="#000" stroke="#000" stroke-width="0.25">24</text>
<line x1="638.07" y1="182.4" x2="638.07" y2="185.4" stroke="#262626" stroke-width="0.9"/>
<text x="638.77" y="199.7" font-size="11.8" text-anchor="middle" textLength="12.5" lengthAdjust="spacingAndGlyphs" fill="#000" stroke="#000" stroke-width="0.25">32</text>
<line x1="661.5" y1="182.4" x2="661.5" y2="185.4" stroke="#262626" stroke-width="0.9"/>
<text x="662.2" y="199.7" font-size="11.8" text-anchor="middle" textLength="12.5" lengthAdjust="spacingAndGlyphs" fill="#000" stroke="#000" stroke-width="0.25">40</text>
<line x1="684.93" y1="182.4" x2="684.93" y2="185.4" stroke="#262626" stroke-width="0.9"/>
<text x="685.63" y="199.7" font-size="11.8" text-anchor="middle" textLength="12.5" lengthAdjust="spacingAndGlyphs" fill="#000" stroke="#000" stroke-width="0.25">48</text>
<line x1="708.36" y1="182.4" x2="708.36" y2="185.4" stroke="#262626" stroke-width="0.9"/>
<text x="709.06" y="199.7" font-size="11.8" text-anchor="middle" textLength="12.5" lengthAdjust="spacingAndGlyphs" fill="#000" stroke="#000" stroke-width="0.25">56</text>
<line x1="731.79" y1="182.4" x2="731.79" y2="185.4" stroke="#262626" stroke-width="0.9"/>
<text x="732.49" y="199.7" font-size="11.8" text-anchor="middle" textLength="12.5" lengthAdjust="spacingAndGlyphs" fill="#000" stroke="#000" stroke-width="0.25">64</text>
<defs><linearGradient id="g579" x1="0" y1="0" x2="0" y2="1"><stop offset="0.000" stop-color="#b8a6ce"/><stop offset="0.025" stop-color="#baa9cf"/><stop offset="0.050" stop-color="#bcabd1"/><stop offset="0.075" stop-color="#beaed2"/><stop offset="0.100" stop-color="#c0b0d4"/><stop offset="0.125" stop-color="#c2b3d5"/><stop offset="0.150" stop-color="#c4b6d7"/><stop offset="0.175" stop-color="#c6b8d8"/><stop offset="0.200" stop-color="#c8bbda"/><stop offset="0.225" stop-color="#cbbedb"/><stop offset="0.250" stop-color="#cdc0dc"/><stop offset="0.275" stop-color="#cfc3de"/><stop offset="0.300" stop-color="#d1c6df"/><stop offset="0.325" stop-color="#d3c8e1"/><stop offset="0.350" stop-color="#d5cbe2"/><stop offset="0.375" stop-color="#d7cde4"/><stop offset="0.400" stop-color="#d9d0e5"/><stop offset="0.425" stop-color="#dbd2e6"/><stop offset="0.450" stop-color="#dcd4e7"/><stop offset="0.475" stop-color="#ded6e8"/><stop offset="0.500" stop-color="#dfd8e9"/><stop offset="0.525" stop-color="#e1daea"/><stop offset="0.550" stop-color="#e2dcec"/><stop offset="0.575" stop-color="#e4deed"/><stop offset="0.600" stop-color="#e6e0ee"/><stop offset="0.625" stop-color="#e7e2ef"/><stop offset="0.650" stop-color="#e9e4f0"/><stop offset="0.675" stop-color="#eae6f1"/><stop offset="0.700" stop-color="#ece8f2"/><stop offset="0.725" stop-color="#eee9f3"/><stop offset="0.750" stop-color="#efebf4"/><stop offset="0.775" stop-color="#f1edf5"/><stop offset="0.800" stop-color="#f2eff6"/><stop offset="0.825" stop-color="#f4f1f7"/><stop offset="0.850" stop-color="#f6f3f8"/><stop offset="0.875" stop-color="#f7f5fa"/><stop offset="0.900" stop-color="#f9f7fb"/><stop offset="0.925" stop-color="#faf9fc"/><stop offset="0.950" stop-color="#fcfbfd"/><stop offset="0.975" stop-color="#fdfdfe"/><stop offset="1.000" stop-color="#ffffff"/></linearGradient></defs>
<rect x="750.5" y="25" width="10" height="157.4" fill="url(#g579)" stroke="#262626" stroke-width="1.1"/>
<line x1="760.5" y1="25" x2="763.3" y2="25" stroke="#262626" stroke-width="0.9"/>
<text x="768" y="28.8" font-size="9" textLength="18" lengthAdjust="spacingAndGlyphs" fill="#000" stroke="#000" stroke-width="0.25">1.00</text>
<line x1="760.5" y1="56.48" x2="763.3" y2="56.48" stroke="#262626" stroke-width="0.9"/>
<text x="768" y="60.28" font-size="9" textLength="18" lengthAdjust="spacingAndGlyphs" fill="#000" stroke="#000" stroke-width="0.25">0.94</text>
<line x1="760.5" y1="87.96" x2="763.3" y2="87.96" stroke="#262626" stroke-width="0.9"/>
<text x="768" y="91.76" font-size="9" textLength="18" lengthAdjust="spacingAndGlyphs" fill="#000" stroke="#000" stroke-width="0.25">0.88</text>
<line x1="760.5" y1="119.44" x2="763.3" y2="119.44" stroke="#262626" stroke-width="0.9"/>
<text x="768" y="123.24" font-size="9" textLength="18" lengthAdjust="spacingAndGlyphs" fill="#000" stroke="#000" stroke-width="0.25">0.82</text>
<line x1="760.5" y1="150.92" x2="763.3" y2="150.92" stroke="#262626" stroke-width="0.9"/>
<text x="768" y="154.72" font-size="9" textLength="18" lengthAdjust="spacingAndGlyphs" fill="#000" stroke="#000" stroke-width="0.25">0.76</text>
<line x1="760.5" y1="182.4" x2="763.3" y2="182.4" stroke="#262626" stroke-width="0.9"/>
<text x="768" y="186.2" font-size="9" textLength="18" lengthAdjust="spacingAndGlyphs" fill="#000" stroke="#000" stroke-width="0.25">0.70</text>
<text x="658.95" y="217.8" font-size="12.8" text-anchor="middle" textLength="93.7" lengthAdjust="spacingAndGlyphs" fill="#000" stroke="#000" stroke-width="0.25">M<tspan font-size="15.5" stroke-width="0.1">×</tspan>N (<tspan font-size="15.5" stroke-width="0.1">×</tspan>1024<tspan font-size="8.5" dy="-5">2</tspan><tspan dy="5">)</tspan></text>
<text x="0" y="0" font-size="12.8" text-anchor="middle" textLength="63.4" lengthAdjust="spacingAndGlyphs" stroke="#000" stroke-width="0.25" transform="translate(552.8,105.7) rotate(-90)">K (<tspan font-size="15.5" stroke-width="0.1">×</tspan>1024)</text>
<text x="659.9" y="240.9" font-size="14.9" text-anchor="middle" textLength="225.4" lengthAdjust="spacingAndGlyphs" fill="#000" stroke="#000" stroke-width="0.25">(c) Ratio of theoretical speedup</text>
<text x="659.75" y="261.2" font-size="14.9" text-anchor="middle" textLength="132.9" lengthAdjust="spacingAndGlyphs" fill="#000" stroke="#000" stroke-width="0.25">on RTX 4090 GPUs</text>
<rect x="847" y="25" width="23.41" height="22.51" fill="#d6cce3"/>
<rect x="870.36" y="25" width="23.41" height="22.51" fill="#cec2dd"/>
<rect x="893.71" y="25" width="23.41" height="22.51" fill="#d1c5df"/>
<rect x="917.07" y="25" width="23.41" height="22.51" fill="#d1c5df"/>
<rect x="940.43" y="25" width="23.41" height="22.51" fill="#d1c5df"/>
<rect x="963.79" y="25" width="23.41" height="22.51" fill="#cec2dd"/>
<rect x="987.14" y="25" width="23.41" height="22.51" fill="#cec2dd"/>
<rect x="847" y="47.46" width="23.41" height="22.51" fill="#d9d0e5"/>
<rect x="870.36" y="47.46" width="23.41" height="22.51" fill="#d4c9e1"/>
<rect x="893.71" y="47.46" width="23.41" height="22.51" fill="#d1c5df"/>
<rect x="917.07" y="47.46" width="23.41" height="22.51" fill="#d4c9e1"/>
<rect x="940.43" y="47.46" width="23.41" height="22.51" fill="#d1c5df"/>
<rect x="963.79" y="47.46" width="23.41" height="22.51" fill="#d4c9e1"/>
<rect x="987.14" y="47.46" width="23.41" height="22.51" fill="#d1c5df"/>
<rect x="847" y="69.91" width="23.41" height="22.51" fill="#dbd3e6"/>
<rect x="870.36" y="69.91" width="23.41" height="22.51" fill="#d9d0e5"/>
<rect x="893.71" y="69.91" width="23.41" height="22.51" fill="#d9d0e5"/>
<rect x="917.07" y="69.91" width="23.41" height="22.51" fill="#d6cce3"/>
<rect x="940.43" y="69.91" width="23.41" height="22.51" fill="#d9d0e5"/>
<rect x="963.79" y="69.91" width="23.41" height="22.51" fill="#d1c5df"/>
<rect x="987.14" y="69.91" width="23.41" height="22.51" fill="#d6cce3"/>
<rect x="847" y="92.37" width="23.41" height="22.51" fill="#e4ddec"/>
<rect x="870.36" y="92.37" width="23.41" height="22.51" fill="#ddd5e8"/>
<rect x="893.71" y="92.37" width="23.41" height="22.51" fill="#dbd3e6"/>
<rect x="917.07" y="92.37" width="23.41" height="22.51" fill="#dbd3e6"/>
<rect x="940.43" y="92.37" width="23.41" height="22.51" fill="#dbd3e6"/>
<rect x="963.79" y="92.37" width="23.41" height="22.51" fill="#d6cce3"/>
<rect x="987.14" y="92.37" width="23.41" height="22.51" fill="#d6cce3"/>
<rect x="847" y="114.83" width="23.41" height="22.51" fill="#e6e0ee"/>
<rect x="870.36" y="114.83" width="23.41" height="22.51" fill="#e4ddec"/>
<rect x="893.71" y="114.83" width="23.41" height="22.51" fill="#dfd8e9"/>
<rect x="917.07" y="114.83" width="23.41" height="22.51" fill="#ddd5e8"/>
<rect x="940.43" y="114.83" width="23.41" height="22.51" fill="#dbd3e6"/>
<rect x="963.79" y="114.83" width="23.41" height="22.51" fill="#ddd5e8"/>
<rect x="987.14" y="114.83" width="23.41" height="22.51" fill="#dfd8e9"/>
<rect x="847" y="137.29" width="23.41" height="22.51" fill="#fdfcfe"/>
<rect x="870.36" y="137.29" width="23.41" height="22.51" fill="#f2eff6"/>
<rect x="893.71" y="137.29" width="23.41" height="22.51" fill="#ece8f2"/>
<rect x="917.07" y="137.29" width="23.41" height="22.51" fill="#e8e2ef"/>
<rect x="940.43" y="137.29" width="23.41" height="22.51" fill="#e8e2ef"/>
<rect x="963.79" y="137.29" width="23.41" height="22.51" fill="#e6e0ee"/>
<rect x="987.14" y="137.29" width="23.41" height="22.51" fill="#e6e0ee"/>
<rect x="847" y="159.74" width="23.41" height="22.51" fill="#ffffff"/>
<rect x="870.36" y="159.74" width="23.41" height="22.51" fill="#f7f5f9"/>
<rect x="893.71" y="159.74" width="23.41" height="22.51" fill="#f2eff6"/>
<rect x="917.07" y="159.74" width="23.41" height="22.51" fill="#eeeaf3"/>
<rect x="940.43" y="159.74" width="23.41" height="22.51" fill="#f0edf5"/>
<rect x="963.79" y="159.74" width="23.41" height="22.51" fill="#eeeaf3"/>
<rect x="987.14" y="159.74" width="23.41" height="22.51" fill="#ece8f2"/>
<line x1="870.36" y1="25" x2="870.36" y2="182.2" stroke="#fff" stroke-opacity="0.25" stroke-width="0.6"/>
<line x1="893.71" y1="25" x2="893.71" y2="182.2" stroke="#fff" stroke-opacity="0.25" stroke-width="0.6"/>
<line x1="917.07" y1="25" x2="917.07" y2="182.2" stroke="#fff" stroke-opacity="0.25" stroke-width="0.6"/>
<line x1="940.43" y1="25" x2="940.43" y2="182.2" stroke="#fff" stroke-opacity="0.25" stroke-width="0.6"/>
<line x1="963.79" y1="25" x2="963.79" y2="182.2" stroke="#fff" stroke-opacity="0.25" stroke-width="0.6"/>
<line x1="987.14" y1="25" x2="987.14" y2="182.2" stroke="#fff" stroke-opacity="0.25" stroke-width="0.6"/>
<line x1="847" y1="47.46" x2="1010.5" y2="47.46" stroke="#fff" stroke-opacity="0.25" stroke-width="0.6"/>
<line x1="847" y1="69.91" x2="1010.5" y2="69.91" stroke="#fff" stroke-opacity="0.25" stroke-width="0.6"/>
<line x1="847" y1="92.37" x2="1010.5" y2="92.37" stroke="#fff" stroke-opacity="0.25" stroke-width="0.6"/>
<line x1="847" y1="114.83" x2="1010.5" y2="114.83" stroke="#fff" stroke-opacity="0.25" stroke-width="0.6"/>
<line x1="847" y1="137.29" x2="1010.5" y2="137.29" stroke="#fff" stroke-opacity="0.25" stroke-width="0.6"/>
<line x1="847" y1="159.74" x2="1010.5" y2="159.74" stroke="#fff" stroke-opacity="0.25" stroke-width="0.6"/>
<text x="859.08" y="40.03" font-size="9.9" text-anchor="middle" textLength="17.7" lengthAdjust="spacingAndGlyphs" fill="#000" stroke="#000" stroke-width="0.15">0.89</text>
<text x="882.44" y="40.03" font-size="9.9" text-anchor="middle" textLength="17.7" lengthAdjust="spacingAndGlyphs" fill="#000" stroke="#000" stroke-width="0.15">0.92</text>
<text x="905.79" y="40.03" font-size="9.9" text-anchor="middle" textLength="17.7" lengthAdjust="spacingAndGlyphs" fill="#000" stroke="#000" stroke-width="0.15">0.91</text>
<text x="929.15" y="40.03" font-size="9.9" text-anchor="middle" textLength="17.7" lengthAdjust="spacingAndGlyphs" fill="#000" stroke="#000" stroke-width="0.15">0.91</text>
<text x="952.51" y="40.03" font-size="9.9" text-anchor="middle" textLength="17.7" lengthAdjust="spacingAndGlyphs" fill="#000" stroke="#000" stroke-width="0.15">0.91</text>
<text x="975.86" y="40.03" font-size="9.9" text-anchor="middle" textLength="17.7" lengthAdjust="spacingAndGlyphs" fill="#000" stroke="#000" stroke-width="0.15">0.92</text>
<text x="999.22" y="40.03" font-size="9.9" text-anchor="middle" textLength="17.7" lengthAdjust="spacingAndGlyphs" fill="#000" stroke="#000" stroke-width="0.15">0.92</text>
<text x="859.08" y="62.49" font-size="9.9" text-anchor="middle" textLength="17.7" lengthAdjust="spacingAndGlyphs" fill="#000" stroke="#000" stroke-width="0.15">0.88</text>
<text x="882.44" y="62.49" font-size="9.9" text-anchor="middle" textLength="17.7" lengthAdjust="spacingAndGlyphs" fill="#000" stroke="#000" stroke-width="0.15">0.90</text>
<text x="905.79" y="62.49" font-size="9.9" text-anchor="middle" textLength="17.7" lengthAdjust="spacingAndGlyphs" fill="#000" stroke="#000" stroke-width="0.15">0.91</text>
<text x="929.15" y="62.49" font-size="9.9" text-anchor="middle" textLength="17.7" lengthAdjust="spacingAndGlyphs" fill="#000" stroke="#000" stroke-width="0.15">0.90</text>
<text x="952.51" y="62.49" font-size="9.9" text-anchor="middle" textLength="17.7" lengthAdjust="spacingAndGlyphs" fill="#000" stroke="#000" stroke-width="0.15">0.91</text>
<text x="975.86" y="62.49" font-size="9.9" text-anchor="middle" textLength="17.7" lengthAdjust="spacingAndGlyphs" fill="#000" stroke="#000" stroke-width="0.15">0.90</text>
<text x="999.22" y="62.49" font-size="9.9" text-anchor="middle" textLength="17.7" lengthAdjust="spacingAndGlyphs" fill="#000" stroke="#000" stroke-width="0.15">0.91</text>
<text x="859.08" y="84.94" font-size="9.9" text-anchor="middle" textLength="17.7" lengthAdjust="spacingAndGlyphs" fill="#000" stroke="#000" stroke-width="0.15">0.87</text>
<text x="882.44" y="84.94" font-size="9.9" text-anchor="middle" textLength="17.7" lengthAdjust="spacingAndGlyphs" fill="#000" stroke="#000" stroke-width="0.15">0.88</text>
<text x="905.79" y="84.94" font-size="9.9" text-anchor="middle" textLength="17.7" lengthAdjust="spacingAndGlyphs" fill="#000" stroke="#000" stroke-width="0.15">0.88</text>
<text x="929.15" y="84.94" font-size="9.9" text-anchor="middle" textLength="17.7" lengthAdjust="spacingAndGlyphs" fill="#000" stroke="#000" stroke-width="0.15">0.89</text>
<text x="952.51" y="84.94" font-size="9.9" text-anchor="middle" textLength="17.7" lengthAdjust="spacingAndGlyphs" fill="#000" stroke="#000" stroke-width="0.15">0.88</text>
<text x="975.86" y="84.94" font-size="9.9" text-anchor="middle" textLength="17.7" lengthAdjust="spacingAndGlyphs" fill="#000" stroke="#000" stroke-width="0.15">0.91</text>
<text x="999.22" y="84.94" font-size="9.9" text-anchor="middle" textLength="17.7" lengthAdjust="spacingAndGlyphs" fill="#000" stroke="#000" stroke-width="0.15">0.89</text>
<text x="859.08" y="107.4" font-size="9.9" text-anchor="middle" textLength="17.7" lengthAdjust="spacingAndGlyphs" fill="#000" stroke="#000" stroke-width="0.15">0.83</text>
<text x="882.44" y="107.4" font-size="9.9" text-anchor="middle" textLength="17.7" lengthAdjust="spacingAndGlyphs" fill="#000" stroke="#000" stroke-width="0.15">0.86</text>
<text x="905.79" y="107.4" font-size="9.9" text-anchor="middle" textLength="17.7" lengthAdjust="spacingAndGlyphs" fill="#000" stroke="#000" stroke-width="0.15">0.87</text>
<text x="929.15" y="107.4" font-size="9.9" text-anchor="middle" textLength="17.7" lengthAdjust="spacingAndGlyphs" fill="#000" stroke="#000" stroke-width="0.15">0.87</text>
<text x="952.51" y="107.4" font-size="9.9" text-anchor="middle" textLength="17.7" lengthAdjust="spacingAndGlyphs" fill="#000" stroke="#000" stroke-width="0.15">0.87</text>
<text x="975.86" y="107.4" font-size="9.9" text-anchor="middle" textLength="17.7" lengthAdjust="spacingAndGlyphs" fill="#000" stroke="#000" stroke-width="0.15">0.89</text>
<text x="999.22" y="107.4" font-size="9.9" text-anchor="middle" textLength="17.7" lengthAdjust="spacingAndGlyphs" fill="#000" stroke="#000" stroke-width="0.15">0.89</text>
<text x="859.08" y="129.86" font-size="9.9" text-anchor="middle" textLength="17.7" lengthAdjust="spacingAndGlyphs" fill="#000" stroke="#000" stroke-width="0.15">0.82</text>
<text x="882.44" y="129.86" font-size="9.9" text-anchor="middle" textLength="17.7" lengthAdjust="spacingAndGlyphs" fill="#000" stroke="#000" stroke-width="0.15">0.83</text>
<text x="905.79" y="129.86" font-size="9.9" text-anchor="middle" textLength="17.7" lengthAdjust="spacingAndGlyphs" fill="#000" stroke="#000" stroke-width="0.15">0.85</text>
<text x="929.15" y="129.86" font-size="9.9" text-anchor="middle" textLength="17.7" lengthAdjust="spacingAndGlyphs" fill="#000" stroke="#000" stroke-width="0.15">0.86</text>
<text x="952.51" y="129.86" font-size="9.9" text-anchor="middle" textLength="17.7" lengthAdjust="spacingAndGlyphs" fill="#000" stroke="#000" stroke-width="0.15">0.87</text>
<text x="975.86" y="129.86" font-size="9.9" text-anchor="middle" textLength="17.7" lengthAdjust="spacingAndGlyphs" fill="#000" stroke="#000" stroke-width="0.15">0.86</text>
<text x="999.22" y="129.86" font-size="9.9" text-anchor="middle" textLength="17.7" lengthAdjust="spacingAndGlyphs" fill="#000" stroke="#000" stroke-width="0.15">0.85</text>
<text x="859.08" y="152.31" font-size="9.9" text-anchor="middle" textLength="17.7" lengthAdjust="spacingAndGlyphs" fill="#000" stroke="#000" stroke-width="0.15">0.71</text>
<text x="882.44" y="152.31" font-size="9.9" text-anchor="middle" textLength="17.7" lengthAdjust="spacingAndGlyphs" fill="#000" stroke="#000" stroke-width="0.15">0.76</text>
<text x="905.79" y="152.31" font-size="9.9" text-anchor="middle" textLength="17.7" lengthAdjust="spacingAndGlyphs" fill="#000" stroke="#000" stroke-width="0.15">0.79</text>
<text x="929.15" y="152.31" font-size="9.9" text-anchor="middle" textLength="17.7" lengthAdjust="spacingAndGlyphs" fill="#000" stroke="#000" stroke-width="0.15">0.81</text>
<text x="952.51" y="152.31" font-size="9.9" text-anchor="middle" textLength="17.7" lengthAdjust="spacingAndGlyphs" fill="#000" stroke="#000" stroke-width="0.15">0.81</text>
<text x="975.86" y="152.31" font-size="9.9" text-anchor="middle" textLength="17.7" lengthAdjust="spacingAndGlyphs" fill="#000" stroke="#000" stroke-width="0.15">0.82</text>
<text x="999.22" y="152.31" font-size="9.9" text-anchor="middle" textLength="17.7" lengthAdjust="spacingAndGlyphs" fill="#000" stroke="#000" stroke-width="0.15">0.82</text>
<text x="859.08" y="174.77" font-size="9.9" text-anchor="middle" textLength="17.7" lengthAdjust="spacingAndGlyphs" fill="#000" stroke="#000" stroke-width="0.15">0.69</text>
<text x="882.44" y="174.77" font-size="9.9" text-anchor="middle" textLength="17.7" lengthAdjust="spacingAndGlyphs" fill="#000" stroke="#000" stroke-width="0.15">0.74</text>
<text x="905.79" y="174.77" font-size="9.9" text-anchor="middle" textLength="17.7" lengthAdjust="spacingAndGlyphs" fill="#000" stroke="#000" stroke-width="0.15">0.76</text>
<text x="929.15" y="174.77" font-size="9.9" text-anchor="middle" textLength="17.7" lengthAdjust="spacingAndGlyphs" fill="#000" stroke="#000" stroke-width="0.15">0.78</text>
<text x="952.51" y="174.77" font-size="9.9" text-anchor="middle" textLength="17.7" lengthAdjust="spacingAndGlyphs" fill="#000" stroke="#000" stroke-width="0.15">0.77</text>
<text x="975.86" y="174.77" font-size="9.9" text-anchor="middle" textLength="17.7" lengthAdjust="spacingAndGlyphs" fill="#000" stroke="#000" stroke-width="0.15">0.78</text>
<text x="999.22" y="174.77" font-size="9.9" text-anchor="middle" textLength="17.7" lengthAdjust="spacingAndGlyphs" fill="#000" stroke="#000" stroke-width="0.15">0.79</text>
<rect x="847" y="25" width="163.5" height="157.2" fill="none" stroke="#262626" stroke-width="1.1"/>
<line x1="844" y1="36.23" x2="847" y2="36.23" stroke="#262626" stroke-width="0.9"/>
<text x="835.2" y="41.43" font-size="11.8" text-anchor="middle" textLength="6.2" lengthAdjust="spacingAndGlyphs" fill="#000" stroke="#000" stroke-width="0.25">8</text>
<line x1="844" y1="58.69" x2="847" y2="58.69" stroke="#262626" stroke-width="0.9"/>
<text x="835.2" y="63.89" font-size="11.8" text-anchor="middle" textLength="6.2" lengthAdjust="spacingAndGlyphs" fill="#000" stroke="#000" stroke-width="0.25">7</text>
<line x1="844" y1="81.14" x2="847" y2="81.14" stroke="#262626" stroke-width="0.9"/>
<text x="835.2" y="86.34" font-size="11.8" text-anchor="middle" textLength="6.2" lengthAdjust="spacingAndGlyphs" fill="#000" stroke="#000" stroke-width="0.25">6</text>
<line x1="844" y1="103.6" x2="847" y2="103.6" stroke="#262626" stroke-width="0.9"/>
<text x="835.2" y="108.8" font-size="11.8" text-anchor="middle" textLength="6.2" lengthAdjust="spacingAndGlyphs" fill="#000" stroke="#000" stroke-width="0.25">5</text>
<line x1="844" y1="126.06" x2="847" y2="126.06" stroke="#262626" stroke-width="0.9"/>
<text x="835.2" y="131.26" font-size="11.8" text-anchor="middle" textLength="6.2" lengthAdjust="spacingAndGlyphs" fill="#000" stroke="#000" stroke-width="0.25">4</text>
<line x1="844" y1="148.51" x2="847" y2="148.51" stroke="#262626" stroke-width="0.9"/>
<text x="835.2" y="153.71" font-size="11.8" text-anchor="middle" textLength="6.2" lengthAdjust="spacingAndGlyphs" fill="#000" stroke="#000" stroke-width="0.25">3</text>
<line x1="844" y1="170.97" x2="847" y2="170.97" stroke="#262626" stroke-width="0.9"/>
<text x="835.2" y="176.17" font-size="11.8" text-anchor="middle" textLength="6.2" lengthAdjust="spacingAndGlyphs" fill="#000" stroke="#000" stroke-width="0.25">2</text>
<line x1="858.68" y1="182.2" x2="858.68" y2="185.2" stroke="#262626" stroke-width="0.9"/>
<text x="859.38" y="199.7" font-size="11.8" text-anchor="middle" textLength="12.5" lengthAdjust="spacingAndGlyphs" fill="#000" stroke="#000" stroke-width="0.25">64</text>
<line x1="882.04" y1="182.2" x2="882.04" y2="185.2" stroke="#262626" stroke-width="0.9"/>
<text x="882.74" y="199.7" font-size="11.8" text-anchor="middle" textLength="12.5" lengthAdjust="spacingAndGlyphs" fill="#000" stroke="#000" stroke-width="0.25">96</text>
<line x1="905.39" y1="182.2" x2="905.39" y2="185.2" stroke="#262626" stroke-width="0.9"/>
<text x="906.09" y="199.7" font-size="11.8" text-anchor="middle" textLength="18.75" lengthAdjust="spacingAndGlyphs" fill="#000" stroke="#000" stroke-width="0.25">128</text>
<line x1="928.75" y1="182.2" x2="928.75" y2="185.2" stroke="#262626" stroke-width="0.9"/>
<text x="929.45" y="199.7" font-size="11.8" text-anchor="middle" textLength="18.75" lengthAdjust="spacingAndGlyphs" fill="#000" stroke="#000" stroke-width="0.25">160</text>
<line x1="952.11" y1="182.2" x2="952.11" y2="185.2" stroke="#262626" stroke-width="0.9"/>
<text x="952.81" y="199.7" font-size="11.8" text-anchor="middle" textLength="18.75" lengthAdjust="spacingAndGlyphs" fill="#000" stroke="#000" stroke-width="0.25">192</text>
<line x1="975.46" y1="182.2" x2="975.46" y2="185.2" stroke="#262626" stroke-width="0.9"/>
<text x="976.16" y="199.7" font-size="11.8" text-anchor="middle" textLength="18.75" lengthAdjust="spacingAndGlyphs" fill="#000" stroke="#000" stroke-width="0.25">224</text>
<line x1="998.82" y1="182.2" x2="998.82" y2="185.2" stroke="#262626" stroke-width="0.9"/>
<text x="999.52" y="199.7" font-size="11.8" text-anchor="middle" textLength="18.75" lengthAdjust="spacingAndGlyphs" fill="#000" stroke="#000" stroke-width="0.25">256</text>
<defs><linearGradient id="g847" x1="0" y1="0" x2="0" y2="1"><stop offset="0.000" stop-color="#b8a6ce"/><stop offset="0.025" stop-color="#baa9cf"/><stop offset="0.050" stop-color="#bcabd1"/><stop offset="0.075" stop-color="#beaed2"/><stop offset="0.100" stop-color="#c0b0d4"/><stop offset="0.125" stop-color="#c2b3d5"/><stop offset="0.150" stop-color="#c4b6d7"/><stop offset="0.175" stop-color="#c6b8d8"/><stop offset="0.200" stop-color="#c8bbda"/><stop offset="0.225" stop-color="#cbbedb"/><stop offset="0.250" stop-color="#cdc0dc"/><stop offset="0.275" stop-color="#cfc3de"/><stop offset="0.300" stop-color="#d1c6df"/><stop offset="0.325" stop-color="#d3c8e1"/><stop offset="0.350" stop-color="#d5cbe2"/><stop offset="0.375" stop-color="#d7cde4"/><stop offset="0.400" stop-color="#d9d0e5"/><stop offset="0.425" stop-color="#dbd2e6"/><stop offset="0.450" stop-color="#dcd4e7"/><stop offset="0.475" stop-color="#ded6e8"/><stop offset="0.500" stop-color="#dfd8e9"/><stop offset="0.525" stop-color="#e1daea"/><stop offset="0.550" stop-color="#e2dcec"/><stop offset="0.575" stop-color="#e4deed"/><stop offset="0.600" stop-color="#e6e0ee"/><stop offset="0.625" stop-color="#e7e2ef"/><stop offset="0.650" stop-color="#e9e4f0"/><stop offset="0.675" stop-color="#eae6f1"/><stop offset="0.700" stop-color="#ece8f2"/><stop offset="0.725" stop-color="#eee9f3"/><stop offset="0.750" stop-color="#efebf4"/><stop offset="0.775" stop-color="#f1edf5"/><stop offset="0.800" stop-color="#f2eff6"/><stop offset="0.825" stop-color="#f4f1f7"/><stop offset="0.850" stop-color="#f6f3f8"/><stop offset="0.875" stop-color="#f7f5fa"/><stop offset="0.900" stop-color="#f9f7fb"/><stop offset="0.925" stop-color="#faf9fc"/><stop offset="0.950" stop-color="#fcfbfd"/><stop offset="0.975" stop-color="#fdfdfe"/><stop offset="1.000" stop-color="#ffffff"/></linearGradient></defs>
<rect x="1018.3" y="25" width="10.3" height="157.2" fill="url(#g847)" stroke="#262626" stroke-width="1.1"/>
<line x1="1028.6" y1="25" x2="1031.4" y2="25" stroke="#262626" stroke-width="0.9"/>
<text x="1036.1" y="28.8" font-size="9" textLength="18" lengthAdjust="spacingAndGlyphs" fill="#000" stroke="#000" stroke-width="0.25">1.00</text>
<line x1="1028.6" y1="56.44" x2="1031.4" y2="56.44" stroke="#262626" stroke-width="0.9"/>
<text x="1036.1" y="60.24" font-size="9" textLength="18" lengthAdjust="spacingAndGlyphs" fill="#000" stroke="#000" stroke-width="0.25">0.94</text>
<line x1="1028.6" y1="87.88" x2="1031.4" y2="87.88" stroke="#262626" stroke-width="0.9"/>
<text x="1036.1" y="91.68" font-size="9" textLength="18" lengthAdjust="spacingAndGlyphs" fill="#000" stroke="#000" stroke-width="0.25">0.88</text>
<line x1="1028.6" y1="119.32" x2="1031.4" y2="119.32" stroke="#262626" stroke-width="0.9"/>
<text x="1036.1" y="123.12" font-size="9" textLength="18" lengthAdjust="spacingAndGlyphs" fill="#000" stroke="#000" stroke-width="0.25">0.82</text>
<line x1="1028.6" y1="150.76" x2="1031.4" y2="150.76" stroke="#262626" stroke-width="0.9"/>
<text x="1036.1" y="154.56" font-size="9" textLength="18" lengthAdjust="spacingAndGlyphs" fill="#000" stroke="#000" stroke-width="0.25">0.76</text>
<line x1="1028.6" y1="182.2" x2="1031.4" y2="182.2" stroke="#262626" stroke-width="0.9"/>
<text x="1036.1" y="186" font-size="9" textLength="18" lengthAdjust="spacingAndGlyphs" fill="#000" stroke="#000" stroke-width="0.25">0.70</text>
<text x="927.2" y="217.8" font-size="12.8" text-anchor="middle" textLength="94.4" lengthAdjust="spacingAndGlyphs" fill="#000" stroke="#000" stroke-width="0.25">M<tspan font-size="15.5" stroke-width="0.1">×</tspan>N (<tspan font-size="15.5" stroke-width="0.1">×</tspan>1024<tspan font-size="8.5" dy="-5">2</tspan><tspan dy="5">)</tspan></text>
<text x="0" y="0" font-size="12.8" text-anchor="middle" textLength="63.4" lengthAdjust="spacingAndGlyphs" stroke="#000" stroke-width="0.25" transform="translate(820.3,105.6) rotate(-90)">K (<tspan font-size="15.5" stroke-width="0.1">×</tspan>1024)</text>
<text x="928.15" y="240.9" font-size="14.9" text-anchor="middle" textLength="227.1" lengthAdjust="spacingAndGlyphs" fill="#000" stroke="#000" stroke-width="0.25">(d) Ratio of theoretical speedup</text>
<text x="927.55" y="261.2" font-size="14.9" text-anchor="middle" textLength="101.9" lengthAdjust="spacingAndGlyphs" fill="#000" stroke="#000" stroke-width="0.25">on A800 GPUs</text>
<text x="161" y="306" style='font-family:"Liberation Serif", serif' font-size="22.85" stroke="#000" stroke-width="0.15">Figure 10: Heatmap of <tspan font-style="italic">FlashOverlap</tspan> performance across different GEMM sizes.</text>
<text x="218" y="612.7" style='font-family:"Liberation Serif", serif' font-size="22.85" stroke="#000" stroke-width="0.15">Figure 11: Cumulative distribution function of prediction error ratio.</text>
<line x1="331" y1="346.6" x2="331" y2="496.3" stroke="#d9d9d9" stroke-width="1"/>
<line x1="331" y1="496.3" x2="506.2" y2="496.3" stroke="#d9d9d9" stroke-width="1"/>
<line x1="374.8" y1="346.6" x2="374.8" y2="496.3" stroke="#d9d9d9" stroke-width="1"/>
<line x1="331" y1="458.88" x2="506.2" y2="458.88" stroke="#d9d9d9" stroke-width="1"/>
<line x1="418.6" y1="346.6" x2="418.6" y2="496.3" stroke="#d9d9d9" stroke-width="1"/>
<line x1="331" y1="421.45" x2="506.2" y2="421.45" stroke="#d9d9d9" stroke-width="1"/>
<line x1="462.4" y1="346.6" x2="462.4" y2="496.3" stroke="#d9d9d9" stroke-width="1"/>
<line x1="331" y1="384.03" x2="506.2" y2="384.03" stroke="#d9d9d9" stroke-width="1"/>
<line x1="506.2" y1="346.6" x2="506.2" y2="496.3" stroke="#d9d9d9" stroke-width="1"/>
<line x1="331" y1="346.6" x2="506.2" y2="346.6" stroke="#d9d9d9" stroke-width="1"/>
<path d="M331.3,484.8 L332.1,474.3 L333.3,461.3 L334.1,449.2 L335,437.8 L335.75,435.81 L336.5,433.82 L337.25,431.84 L338,429.85 L338.75,427.86 L339.5,425.88 L340.25,423.89 L341,421.9 L342.1,414.9 L343.4,408.6 L344.7,401.6 L346,394 L346.6,387 L347.6,380.6 L348.5,375.6 L348.8,372 L349.66,370.91 L350.51,369.82 L351.37,368.73 L352.22,367.64 L353.08,366.56 L353.93,365.47 L354.79,364.38 L355.64,363.29 L356.5,362.2 L357.6,361 L358.7,357.8 L359,354.5 L361,349.5 L363.5,346.6 L506.2,346.6 L506.5,346.6" fill="none" stroke="#548235" stroke-width="1.6" stroke-linejoin="round"/>
<circle cx="331.3" cy="484.8" r="3.55" fill="#a9d18e" stroke="#548235" stroke-width="1.5"/>
<circle cx="332.1" cy="474.3" r="3.55" fill="#a9d18e" stroke="#548235" stroke-width="1.5"/>
<circle cx="333.3" cy="461.3" r="3.55" fill="#a9d18e" stroke="#548235" stroke-width="1.5"/>
<circle cx="334.1" cy="449.2" r="3.55" fill="#a9d18e" stroke="#548235" stroke-width="1.5"/>
<circle cx="335" cy="437.8" r="3.55" fill="#a9d18e" stroke="#548235" stroke-width="1.5"/>
<circle cx="335.75" cy="435.81" r="3.55" fill="#a9d18e" stroke="#548235" stroke-width="1.5"/>
<circle cx="336.5" cy="433.82" r="3.55" fill="#a9d18e" stroke="#548235" stroke-width="1.5"/>
<circle cx="337.25" cy="431.84" r="3.55" fill="#a9d18e" stroke="#548235" stroke-width="1.5"/>
<circle cx="338" cy="429.85" r="3.55" fill="#a9d18e" stroke="#548235" stroke-width="1.5"/>
<circle cx="338.75" cy="427.86" r="3.55" fill="#a9d18e" stroke="#548235" stroke-width="1.5"/>
<circle cx="339.5" cy="425.88" r="3.55" fill="#a9d18e" stroke="#548235" stroke-width="1.5"/>
<circle cx="340.25" cy="423.89" r="3.55" fill="#a9d18e" stroke="#548235" stroke-width="1.5"/>
<circle cx="341" cy="421.9" r="3.55" fill="#a9d18e" stroke="#548235" stroke-width="1.5"/>
<circle cx="342.1" cy="414.9" r="3.55" fill="#a9d18e" stroke="#548235" stroke-width="1.5"/>
<circle cx="343.4" cy="408.6" r="3.55" fill="#a9d18e" stroke="#548235" stroke-width="1.5"/>
<circle cx="344.7" cy="401.6" r="3.55" fill="#a9d18e" stroke="#548235" stroke-width="1.5"/>
<circle cx="346" cy="394" r="3.55" fill="#a9d18e" stroke="#548235" stroke-width="1.5"/>
<circle cx="346.6" cy="387" r="3.55" fill="#a9d18e" stroke="#548235" stroke-width="1.5"/>
<circle cx="347.6" cy="380.6" r="3.55" fill="#a9d18e" stroke="#548235" stroke-width="1.5"/>
<circle cx="348.5" cy="375.6" r="3.55" fill="#a9d18e" stroke="#548235" stroke-width="1.5"/>
<circle cx="348.8" cy="372" r="3.55" fill="#a9d18e" stroke="#548235" stroke-width="1.5"/>
<circle cx="349.66" cy="370.91" r="3.55" fill="#a9d18e" stroke="#548235" stroke-width="1.5"/>
<circle cx="350.51" cy="369.82" r="3.55" fill="#a9d18e" stroke="#548235" stroke-width="1.5"/>
<circle cx="351.37" cy="368.73" r="3.55" fill="#a9d18e" stroke="#548235" stroke-width="1.5"/>
<circle cx="352.22" cy="367.64" r="3.55" fill="#a9d18e" stroke="#548235" stroke-width="1.5"/>
<circle cx="353.08" cy="366.56" r="3.55" fill="#a9d18e" stroke="#548235" stroke-width="1.5"/>
<circle cx="353.93" cy="365.47" r="3.55" fill="#a9d18e" stroke="#548235" stroke-width="1.5"/>
<circle cx="354.79" cy="364.38" r="3.55" fill="#a9d18e" stroke="#548235" stroke-width="1.5"/>
<circle cx="355.64" cy="363.29" r="3.55" fill="#a9d18e" stroke="#548235" stroke-width="1.5"/>
<circle cx="356.5" cy="362.2" r="3.55" fill="#a9d18e" stroke="#548235" stroke-width="1.5"/>
<circle cx="357.6" cy="361" r="3.55" fill="#a9d18e" stroke="#548235" stroke-width="1.5"/>
<circle cx="358.7" cy="357.8" r="3.55" fill="#a9d18e" stroke="#548235" stroke-width="1.5"/>
<path d="M359,354.5 L361,349.5 L363.5,346.6 L506.2,346.6" fill="none" stroke="#548235" stroke-width="8.6" stroke-linecap="round" stroke-linejoin="round"/>
<circle cx="506.5" cy="346.6" r="3.55" fill="#a9d18e" stroke="#548235" stroke-width="1.5"/>
<text x="314.5" y="501.5" font-size="16.6" text-anchor="end" textLength="22" lengthAdjust="spacingAndGlyphs" fill="#000" stroke="#000" stroke-width="0.25">0%</text>
<text x="314.5" y="464.07" font-size="16.6" text-anchor="end" textLength="31.1" lengthAdjust="spacingAndGlyphs" fill="#000" stroke="#000" stroke-width="0.25">25%</text>
<text x="314.5" y="426.65" font-size="16.6" text-anchor="end" textLength="31.1" lengthAdjust="spacingAndGlyphs" fill="#000" stroke="#000" stroke-width="0.25">50%</text>
<text x="314.5" y="389.23" font-size="16.6" text-anchor="end" textLength="31.1" lengthAdjust="spacingAndGlyphs" fill="#000" stroke="#000" stroke-width="0.25">75%</text>
<text x="314.5" y="351.8" font-size="16.6" text-anchor="end" textLength="39.4" lengthAdjust="spacingAndGlyphs" fill="#000" stroke="#000" stroke-width="0.25">100%</text>
<text x="331" y="525.6" font-size="16.6" text-anchor="middle" textLength="22" lengthAdjust="spacingAndGlyphs" fill="#000" stroke="#000" stroke-width="0.25">0%</text>
<text x="374.8" y="525.6" font-size="16.6" text-anchor="middle" textLength="31.1" lengthAdjust="spacingAndGlyphs" fill="#000" stroke="#000" stroke-width="0.25">25%</text>
<text x="418.6" y="525.6" font-size="16.6" text-anchor="middle" textLength="31.1" lengthAdjust="spacingAndGlyphs" fill="#000" stroke="#000" stroke-width="0.25">50%</text>
<text x="462.4" y="525.6" font-size="16.6" text-anchor="middle" textLength="31.1" lengthAdjust="spacingAndGlyphs" fill="#000" stroke="#000" stroke-width="0.25">75%</text>
<text x="506.2" y="525.6" font-size="16.6" text-anchor="middle" textLength="39" lengthAdjust="spacingAndGlyphs" fill="#000" stroke="#000" stroke-width="0.25">100%</text>
<text x="417.25" y="544.5" font-size="15.9" text-anchor="middle" textLength="73.3" lengthAdjust="spacingAndGlyphs" fill="#000" stroke="#000" stroke-width="0.25">Error ratio</text>
<text x="408.35" y="566.6" font-size="15.9" text-anchor="middle" textLength="135.9" lengthAdjust="spacingAndGlyphs" fill="#000" stroke="#000" stroke-width="0.25">(a) RTX 4090 GPUs</text>
<text x="0" y="0" font-size="16.6" text-anchor="middle" textLength="79.3" lengthAdjust="spacingAndGlyphs" stroke="#000" stroke-width="0.25" transform="translate(275.6,422) rotate(-90)">Percentage</text>
<line x1="602.6" y1="348.5" x2="602.6" y2="496.6" stroke="#d9d9d9" stroke-width="1"/>
<line x1="602.6" y1="496.6" x2="778.1" y2="496.6" stroke="#d9d9d9" stroke-width="1"/>
<line x1="646.48" y1="348.5" x2="646.48" y2="496.6" stroke="#d9d9d9" stroke-width="1"/>
<line x1="602.6" y1="459.58" x2="778.1" y2="459.58" stroke="#d9d9d9" stroke-width="1"/>
<line x1="690.35" y1="348.5" x2="690.35" y2="496.6" stroke="#d9d9d9" stroke-width="1"/>
<line x1="602.6" y1="422.55" x2="778.1" y2="422.55" stroke="#d9d9d9" stroke-width="1"/>
<line x1="734.23" y1="348.5" x2="734.23" y2="496.6" stroke="#d9d9d9" stroke-width="1"/>
<line x1="602.6" y1="385.52" x2="778.1" y2="385.52" stroke="#d9d9d9" stroke-width="1"/>
<line x1="778.1" y1="348.5" x2="778.1" y2="496.6" stroke="#d9d9d9" stroke-width="1"/>
<line x1="602.6" y1="348.5" x2="778.1" y2="348.5" stroke="#d9d9d9" stroke-width="1"/>
<path d="M603.3,489.2 L604.3,481 L605.3,472.1 L606.1,459.4 L607.2,449 L608.1,437.5 L609.1,427.9 L609.7,421.3 L610.3,416.2 L611,409.2 L612.2,402.2 L613.5,397.8 L614.8,392.1 L615.8,387 L616.7,382.5 L618,377.5 L619.6,371.7 L620.5,365.4 L621.8,360.3 L623,356.5 L623.5,355 L626,351.4 L629.6,349.2 L633,348.5 L778.5,348.5 L778.5,348.5" fill="none" stroke="#2f5597" stroke-width="1.6" stroke-linejoin="round"/>
<circle cx="603.3" cy="489.2" r="3.55" fill="#dae3f3" stroke="#2f5597" stroke-width="1.5"/>
<circle cx="604.3" cy="481" r="3.55" fill="#dae3f3" stroke="#2f5597" stroke-width="1.5"/>
<circle cx="605.3" cy="472.1" r="3.55" fill="#dae3f3" stroke="#2f5597" stroke-width="1.5"/>
<circle cx="606.1" cy="459.4" r="3.55" fill="#dae3f3" stroke="#2f5597" stroke-width="1.5"/>
<circle cx="607.2" cy="449" r="3.55" fill="#dae3f3" stroke="#2f5597" stroke-width="1.5"/>
<circle cx="608.1" cy="437.5" r="3.55" fill="#dae3f3" stroke="#2f5597" stroke-width="1.5"/>
<circle cx="609.1" cy="427.9" r="3.55" fill="#dae3f3" stroke="#2f5597" stroke-width="1.5"/>
<circle cx="609.7" cy="421.3" r="3.55" fill="#dae3f3" stroke="#2f5597" stroke-width="1.5"/>
<circle cx="610.3" cy="416.2" r="3.55" fill="#dae3f3" stroke="#2f5597" stroke-width="1.5"/>
<circle cx="611" cy="409.2" r="3.55" fill="#dae3f3" stroke="#2f5597" stroke-width="1.5"/>
<circle cx="612.2" cy="402.2" r="3.55" fill="#dae3f3" stroke="#2f5597" stroke-width="1.5"/>
<circle cx="613.5" cy="397.8" r="3.55" fill="#dae3f3" stroke="#2f5597" stroke-width="1.5"/>
<circle cx="614.8" cy="392.1" r="3.55" fill="#dae3f3" stroke="#2f5597" stroke-width="1.5"/>
<circle cx="615.8" cy="387" r="3.55" fill="#dae3f3" stroke="#2f5597" stroke-width="1.5"/>
<circle cx="616.7" cy="382.5" r="3.55" fill="#dae3f3" stroke="#2f5597" stroke-width="1.5"/>
<circle cx="618" cy="377.5" r="3.55" fill="#dae3f3" stroke="#2f5597" stroke-width="1.5"/>
<circle cx="619.6" cy="371.7" r="3.55" fill="#dae3f3" stroke="#2f5597" stroke-width="1.5"/>
<circle cx="620.5" cy="365.4" r="3.55" fill="#dae3f3" stroke="#2f5597" stroke-width="1.5"/>
<circle cx="621.8" cy="360.3" r="3.55" fill="#dae3f3" stroke="#2f5597" stroke-width="1.5"/>
<circle cx="623" cy="356.5" r="3.55" fill="#dae3f3" stroke="#2f5597" stroke-width="1.5"/>
<path d="M623.5,355 L626,351.4 L629.6,349.2 L633,348.5 L778.5,348.5" fill="none" stroke="#2f5597" stroke-width="8.6" stroke-linecap="round" stroke-linejoin="round"/>
<circle cx="778.5" cy="348.5" r="3.55" fill="#dae3f3" stroke="#2f5597" stroke-width="1.5"/>
<text x="586.7" y="501.8" font-size="16.6" text-anchor="end" textLength="22" lengthAdjust="spacingAndGlyphs" fill="#000" stroke="#000" stroke-width="0.25">0%</text>
<text x="586.7" y="464.78" font-size="16.6" text-anchor="end" textLength="31.1" lengthAdjust="spacingAndGlyphs" fill="#000" stroke="#000" stroke-width="0.25">25%</text>
<text x="586.7" y="427.75" font-size="16.6" text-anchor="end" textLength="31.1" lengthAdjust="spacingAndGlyphs" fill="#000" stroke="#000" stroke-width="0.25">50%</text>
<text x="586.7" y="390.72" font-size="16.6" text-anchor="end" textLength="31.1" lengthAdjust="spacingAndGlyphs" fill="#000" stroke="#000" stroke-width="0.25">75%</text>
<text x="586.7" y="353.7" font-size="16.6" text-anchor="end" textLength="39.4" lengthAdjust="spacingAndGlyphs" fill="#000" stroke="#000" stroke-width="0.25">100%</text>
<text x="602.6" y="525.6" font-size="16.6" text-anchor="middle" textLength="22" lengthAdjust="spacingAndGlyphs" fill="#000" stroke="#000" stroke-width="0.25">0%</text>
<text x="646.48" y="525.6" font-size="16.6" text-anchor="middle" textLength="31.1" lengthAdjust="spacingAndGlyphs" fill="#000" stroke="#000" stroke-width="0.25">25%</text>
<text x="690.35" y="525.6" font-size="16.6" text-anchor="middle" textLength="31.1" lengthAdjust="spacingAndGlyphs" fill="#000" stroke="#000" stroke-width="0.25">50%</text>
<text x="734.23" y="525.6" font-size="16.6" text-anchor="middle" textLength="31.1" lengthAdjust="spacingAndGlyphs" fill="#000" stroke="#000" stroke-width="0.25">75%</text>
<text x="778.1" y="525.6" font-size="16.6" text-anchor="middle" textLength="39" lengthAdjust="spacingAndGlyphs" fill="#000" stroke="#000" stroke-width="0.25">100%</text>
<text x="690.25" y="544.5" font-size="15.9" text-anchor="middle" textLength="73.1" lengthAdjust="spacingAndGlyphs" fill="#000" stroke="#000" stroke-width="0.25">Error ratio</text>
<text x="683.65" y="566.6" font-size="15.9" text-anchor="middle" textLength="105.7" lengthAdjust="spacingAndGlyphs" fill="#000" stroke="#000" stroke-width="0.25">(b) A800 GPUs</text>
<text x="0" y="0" font-size="16.6" text-anchor="middle" textLength="79.3" lengthAdjust="spacingAndGlyphs" stroke="#000" stroke-width="0.25" transform="translate(547.1,422) rotate(-90)">Percentage</text>
</svg></div></body></html>
